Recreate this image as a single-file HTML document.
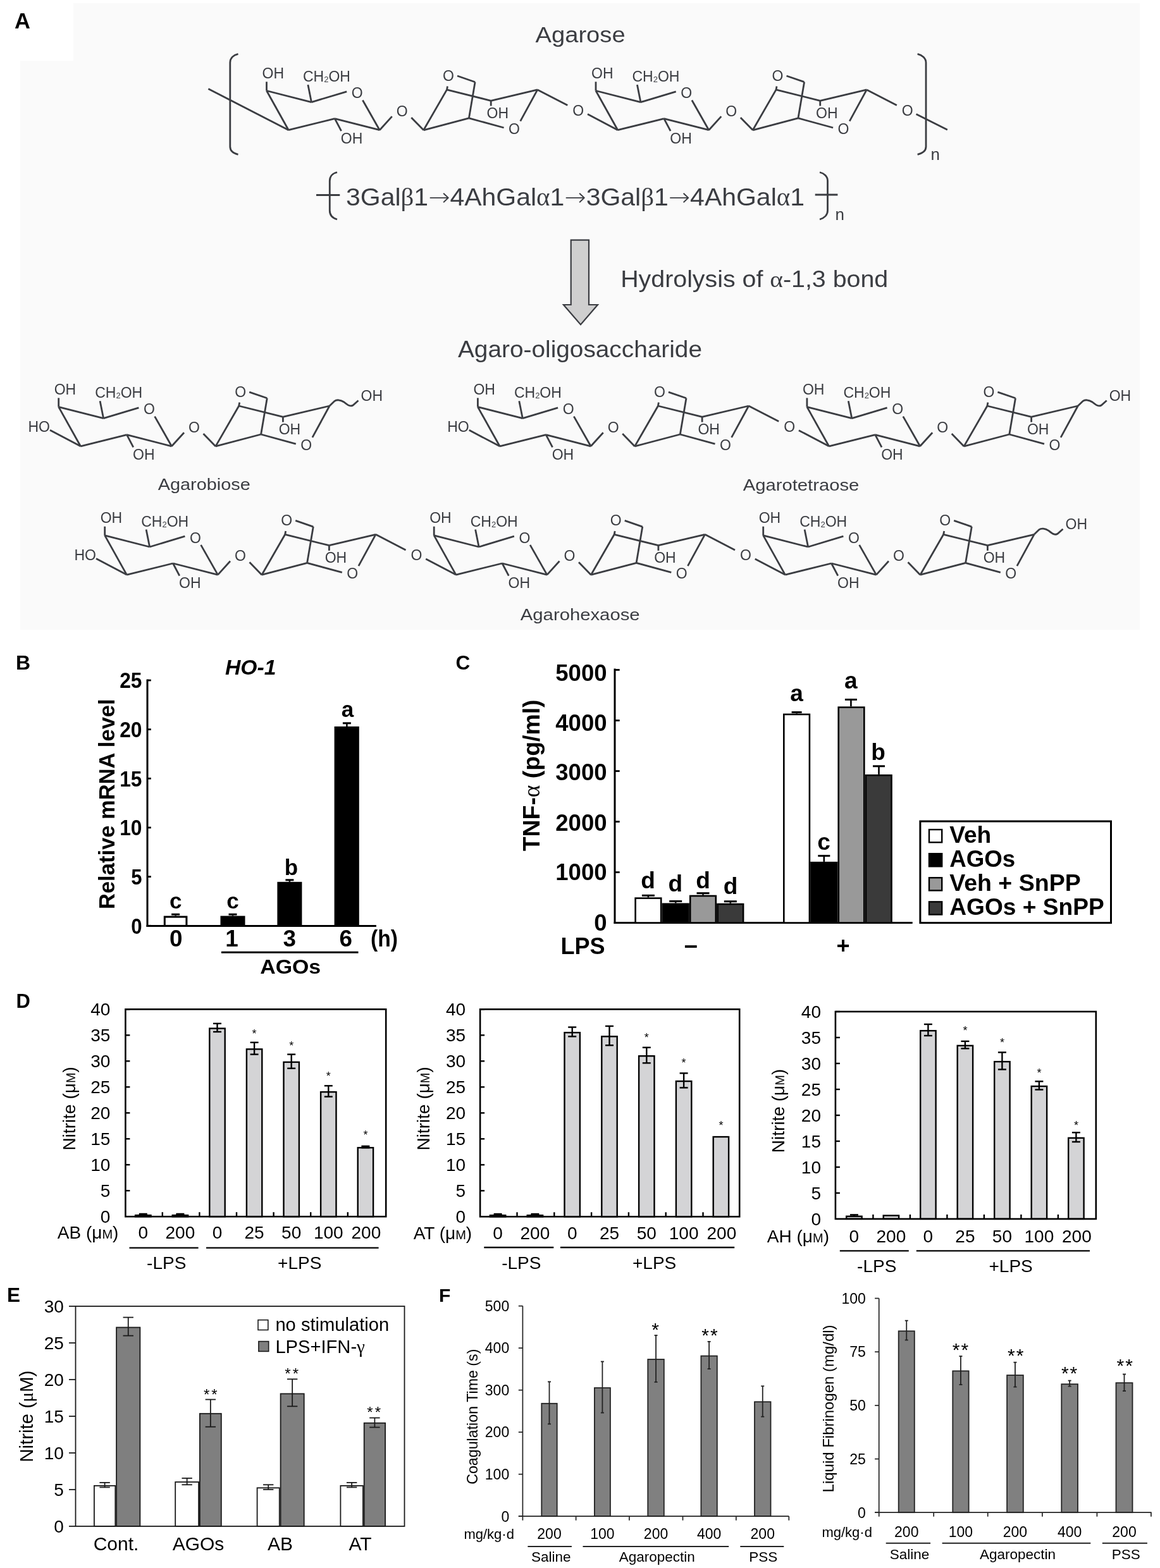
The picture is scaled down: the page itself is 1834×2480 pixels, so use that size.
<!DOCTYPE html>
<html><head><meta charset="utf-8"><title>Figure</title>
<style>html,body{margin:0;padding:0;background:#fff;}body{width:1834px;height:2480px;overflow:hidden;}svg{display:block;}</style>
</head><body>
<svg width="1834" height="2480" viewBox="0 0 1834 2480" font-family='"Liberation Sans", Arial, sans-serif'>
<path d="M32,96 L116,96 L116,5 L1802,5 L1802,996 L32,996 Z" stroke="none" stroke-width="0" fill="#fafafa" stroke-linecap="butt" stroke-linejoin="miter"/>
<text x="23" y="45.4" font-size="34.5" font-weight="bold">A</text>
<line x1="421.5" y1="143.5" x2="421.5" y2="129.3" stroke="#3b3d42" stroke-width="2.8" stroke-linecap="butt"/>
<text x="414.5" y="123.8" font-size="23" fill="#3b3d42">OH</text>
<line x1="421.5" y1="143.5" x2="492.4" y2="161.6" stroke="#3b3d42" stroke-width="2.8" stroke-linecap="butt"/>
<line x1="492.4" y1="161.6" x2="486.9" y2="134.1" stroke="#3b3d42" stroke-width="2.8" stroke-linecap="butt"/>
<text x="479" y="129.3" font-size="23" fill="#3b3d42"><tspan font-family="'Liberation Sans', sans-serif">CH</tspan><tspan font-family="'Liberation Sans', sans-serif" font-size="13" dy="1">2</tspan><tspan font-family="'Liberation Sans', sans-serif" dy="-1">OH</tspan></text>
<line x1="492.4" y1="161.6" x2="548.2" y2="144.8" stroke="#3b3d42" stroke-width="2.8" stroke-linecap="butt"/>
<text x="564.8" y="155.3" font-size="23" text-anchor="middle" fill="#3b3d42">O</text>
<line x1="573.4" y1="158.5" x2="600.2" y2="205.7" stroke="#3b3d42" stroke-width="2.8" stroke-linecap="butt"/>
<line x1="600.2" y1="205.7" x2="529.3" y2="187.6" stroke="#3b3d42" stroke-width="2.8" stroke-linecap="butt"/>
<line x1="529.3" y1="187.6" x2="539.6" y2="207.2" stroke="#3b3d42" stroke-width="2.8" stroke-linecap="butt"/>
<text x="538.8" y="226.9" font-size="23" fill="#3b3d42">OH</text>
<line x1="529.3" y1="187.6" x2="456.2" y2="205.7" stroke="#3b3d42" stroke-width="2.8" stroke-linecap="butt"/>
<line x1="456.2" y1="205.7" x2="421.5" y2="143.5" stroke="#3b3d42" stroke-width="2.8" stroke-linecap="butt"/>
<line x1="600.2" y1="205.7" x2="619.8" y2="184.1" stroke="#3b3d42" stroke-width="2.8" stroke-linecap="butt"/>
<text x="635.8" y="184" font-size="23" text-anchor="middle" fill="#3b3d42">O</text>
<line x1="650.3" y1="185.9" x2="669.7" y2="205.8" stroke="#3b3d42" stroke-width="2.8" stroke-linecap="butt"/>
<line x1="669.7" y1="205.8" x2="706.5" y2="141.9" stroke="#3b3d42" stroke-width="2.8" stroke-linecap="butt"/>
<line x1="706.5" y1="141.9" x2="707.5" y2="136.5" stroke="#3b3d42" stroke-width="2.8" stroke-linecap="butt"/>
<text x="709" y="127.8" font-size="23" text-anchor="middle" fill="#3b3d42">O</text>
<line x1="723" y1="120" x2="751.1" y2="129.7" stroke="#3b3d42" stroke-width="2.8" stroke-linecap="butt"/>
<line x1="751.1" y1="129.7" x2="741.4" y2="186.9" stroke="#3b3d42" stroke-width="2.8" stroke-linecap="butt"/>
<line x1="706.5" y1="141.9" x2="776.2" y2="159.3" stroke="#3b3d42" stroke-width="2.8" stroke-linecap="butt"/>
<line x1="776.2" y1="159.3" x2="776.2" y2="167.5" stroke="#3b3d42" stroke-width="2.8" stroke-linecap="butt"/>
<text x="769.5" y="186.9" font-size="23" fill="#3b3d42">OH</text>
<line x1="776.2" y1="159.3" x2="849.8" y2="141.9" stroke="#3b3d42" stroke-width="2.8" stroke-linecap="butt"/>
<line x1="849.8" y1="141.9" x2="822.7" y2="191.7" stroke="#3b3d42" stroke-width="2.8" stroke-linecap="butt"/>
<text x="813" y="212" font-size="23" text-anchor="middle" fill="#3b3d42">O</text>
<line x1="741.4" y1="186.9" x2="796.6" y2="202" stroke="#3b3d42" stroke-width="2.8" stroke-linecap="butt"/>
<line x1="669.7" y1="205.8" x2="741.4" y2="186.9" stroke="#3b3d42" stroke-width="2.8" stroke-linecap="butt"/>
<line x1="849.8" y1="141.9" x2="897.3" y2="166.5" stroke="#3b3d42" stroke-width="2.8" stroke-linecap="butt"/>
<text x="914.3" y="182.7" font-size="23" text-anchor="middle" fill="#3b3d42">O</text>
<line x1="929" y1="180.6" x2="976.7" y2="205.7" stroke="#3b3d42" stroke-width="2.8" stroke-linecap="butt"/>
<line x1="942" y1="143.5" x2="942" y2="129.3" stroke="#3b3d42" stroke-width="2.8" stroke-linecap="butt"/>
<text x="935" y="123.8" font-size="23" fill="#3b3d42">OH</text>
<line x1="942" y1="143.5" x2="1012.9" y2="161.6" stroke="#3b3d42" stroke-width="2.8" stroke-linecap="butt"/>
<line x1="1012.9" y1="161.6" x2="1007.4" y2="134.1" stroke="#3b3d42" stroke-width="2.8" stroke-linecap="butt"/>
<text x="999.5" y="129.3" font-size="23" fill="#3b3d42"><tspan font-family="'Liberation Sans', sans-serif">CH</tspan><tspan font-family="'Liberation Sans', sans-serif" font-size="13" dy="1">2</tspan><tspan font-family="'Liberation Sans', sans-serif" dy="-1">OH</tspan></text>
<line x1="1012.9" y1="161.6" x2="1068.7" y2="144.8" stroke="#3b3d42" stroke-width="2.8" stroke-linecap="butt"/>
<text x="1085.3" y="155.3" font-size="23" text-anchor="middle" fill="#3b3d42">O</text>
<line x1="1093.9" y1="158.5" x2="1120.7" y2="205.7" stroke="#3b3d42" stroke-width="2.8" stroke-linecap="butt"/>
<line x1="1120.7" y1="205.7" x2="1049.8" y2="187.6" stroke="#3b3d42" stroke-width="2.8" stroke-linecap="butt"/>
<line x1="1049.8" y1="187.6" x2="1060.1" y2="207.2" stroke="#3b3d42" stroke-width="2.8" stroke-linecap="butt"/>
<text x="1059.3" y="226.9" font-size="23" fill="#3b3d42">OH</text>
<line x1="1049.8" y1="187.6" x2="976.7" y2="205.7" stroke="#3b3d42" stroke-width="2.8" stroke-linecap="butt"/>
<line x1="976.7" y1="205.7" x2="942" y2="143.5" stroke="#3b3d42" stroke-width="2.8" stroke-linecap="butt"/>
<line x1="1120.7" y1="205.7" x2="1140.3" y2="184.1" stroke="#3b3d42" stroke-width="2.8" stroke-linecap="butt"/>
<text x="1156.3" y="184" font-size="23" text-anchor="middle" fill="#3b3d42">O</text>
<line x1="1170.8" y1="185.9" x2="1190.2" y2="205.8" stroke="#3b3d42" stroke-width="2.8" stroke-linecap="butt"/>
<line x1="1190.2" y1="205.8" x2="1227" y2="141.9" stroke="#3b3d42" stroke-width="2.8" stroke-linecap="butt"/>
<line x1="1227" y1="141.9" x2="1228" y2="136.5" stroke="#3b3d42" stroke-width="2.8" stroke-linecap="butt"/>
<text x="1229.5" y="127.8" font-size="23" text-anchor="middle" fill="#3b3d42">O</text>
<line x1="1243.5" y1="120" x2="1271.6" y2="129.7" stroke="#3b3d42" stroke-width="2.8" stroke-linecap="butt"/>
<line x1="1271.6" y1="129.7" x2="1261.9" y2="186.9" stroke="#3b3d42" stroke-width="2.8" stroke-linecap="butt"/>
<line x1="1227" y1="141.9" x2="1296.7" y2="159.3" stroke="#3b3d42" stroke-width="2.8" stroke-linecap="butt"/>
<line x1="1296.7" y1="159.3" x2="1296.7" y2="167.5" stroke="#3b3d42" stroke-width="2.8" stroke-linecap="butt"/>
<text x="1290" y="186.9" font-size="23" fill="#3b3d42">OH</text>
<line x1="1296.7" y1="159.3" x2="1370.3" y2="141.9" stroke="#3b3d42" stroke-width="2.8" stroke-linecap="butt"/>
<line x1="1370.3" y1="141.9" x2="1343.2" y2="191.7" stroke="#3b3d42" stroke-width="2.8" stroke-linecap="butt"/>
<text x="1333.5" y="212" font-size="23" text-anchor="middle" fill="#3b3d42">O</text>
<line x1="1261.9" y1="186.9" x2="1317.1" y2="202" stroke="#3b3d42" stroke-width="2.8" stroke-linecap="butt"/>
<line x1="1190.2" y1="205.8" x2="1261.9" y2="186.9" stroke="#3b3d42" stroke-width="2.8" stroke-linecap="butt"/>
<line x1="329.4" y1="140.4" x2="456.2" y2="205.7" stroke="#3b3d42" stroke-width="2.8" stroke-linecap="butt"/>
<line x1="1370.3" y1="141.9" x2="1417.8" y2="166.5" stroke="#3b3d42" stroke-width="2.8" stroke-linecap="butt"/>
<text x="1434.8" y="182.7" font-size="23" text-anchor="middle" fill="#3b3d42">O</text>
<line x1="1448.5" y1="180.6" x2="1497.8" y2="205.2" stroke="#3b3d42" stroke-width="2.8" stroke-linecap="butt"/>
<path d="M376.5,85.3 C369,87 363.8,92 363.8,99 L363.8,232 C363.8,239 369,242.5 376.5,244.3" stroke="#3b3d42" stroke-width="2.8" fill="none" stroke-linecap="butt" stroke-linejoin="miter"/>
<path d="M1450.6,85.3 C1458,87 1464,92 1464,99 L1464,232 C1464,239 1458,242.5 1450.6,244.3" stroke="#3b3d42" stroke-width="2.8" fill="none" stroke-linecap="butt" stroke-linejoin="miter"/>
<text x="1471.5" y="252.9" font-size="26" fill="#3b3d42">n</text>
<text x="917.6" y="66.6" font-size="35.5" text-anchor="middle" fill="#3b3d42" textLength="142" lengthAdjust="spacingAndGlyphs">Agarose</text>
<text x="547" y="325.3" font-size="39" fill="#3b3d42" textLength="725" lengthAdjust="spacingAndGlyphs"><tspan font-family="'Liberation Sans', sans-serif">3Gal</tspan><tspan font-family="'Liberation Serif', serif">β</tspan><tspan font-family="'Liberation Sans', sans-serif">1</tspan><tspan font-family="'DejaVu Sans', sans-serif" font-weight="100">→</tspan><tspan font-family="'Liberation Sans', sans-serif">4AhGal</tspan><tspan font-family="'Liberation Serif', serif">α</tspan><tspan font-family="'Liberation Sans', sans-serif">1</tspan><tspan font-family="'DejaVu Sans', sans-serif" font-weight="100">→</tspan><tspan font-family="'Liberation Sans', sans-serif">3Gal</tspan><tspan font-family="'Liberation Serif', serif">β</tspan><tspan font-family="'Liberation Sans', sans-serif">1</tspan><tspan font-family="'DejaVu Sans', sans-serif" font-weight="100">→</tspan><tspan font-family="'Liberation Sans', sans-serif">4AhGal</tspan><tspan font-family="'Liberation Serif', serif">α</tspan><tspan font-family="'Liberation Sans', sans-serif">1</tspan></text>
<path d="M533,272.5 C526,274 521.3,279 521.3,286 L521.3,333 C521.3,340 526,345 533,347" stroke="#3b3d42" stroke-width="2.8" fill="none" stroke-linecap="butt" stroke-linejoin="miter"/>
<line x1="500" y1="308.5" x2="537.3" y2="308.5" stroke="#3b3d42" stroke-width="2.8" stroke-linecap="butt"/>
<path d="M1296,272.5 C1303,274 1308.5,279 1308.5,286 L1308.5,333 C1308.5,340 1303,345 1296,347" stroke="#3b3d42" stroke-width="2.8" fill="none" stroke-linecap="butt" stroke-linejoin="miter"/>
<line x1="1288.7" y1="308" x2="1324.4" y2="308" stroke="#3b3d42" stroke-width="2.8" stroke-linecap="butt"/>
<text x="1320.5" y="347.9" font-size="26" fill="#3b3d42">n</text>
<path d="M902.7,379.6 L931,379.6 L931,482 L945,482 L918,513.4 L890.9,482 L902.7,482 Z" stroke="#3b3d42" stroke-width="2.2" fill="#cfcfcf" stroke-linecap="butt" stroke-linejoin="miter"/>
<text x="981.2" y="453.7" font-size="36" fill="#3b3d42" textLength="423" lengthAdjust="spacingAndGlyphs"><tspan font-family="'Liberation Sans', sans-serif">Hydrolysis of </tspan><tspan font-family="'Liberation Serif', serif">α</tspan><tspan font-family="'Liberation Sans', sans-serif">-1,3 bond</tspan></text>
<text x="724" y="564.9" font-size="36" fill="#3b3d42" textLength="386" lengthAdjust="spacingAndGlyphs">Agaro-oligosaccharide</text>
<line x1="92.7" y1="643.6" x2="92.7" y2="629.4" stroke="#3b3d42" stroke-width="2.8" stroke-linecap="butt"/>
<text x="85.7" y="623.9" font-size="23" fill="#3b3d42">OH</text>
<line x1="92.7" y1="643.6" x2="163.6" y2="661.7" stroke="#3b3d42" stroke-width="2.8" stroke-linecap="butt"/>
<line x1="163.6" y1="661.7" x2="158.1" y2="634.2" stroke="#3b3d42" stroke-width="2.8" stroke-linecap="butt"/>
<text x="150.2" y="629.4" font-size="23" fill="#3b3d42"><tspan font-family="'Liberation Sans', sans-serif">CH</tspan><tspan font-family="'Liberation Sans', sans-serif" font-size="13" dy="1">2</tspan><tspan font-family="'Liberation Sans', sans-serif" dy="-1">OH</tspan></text>
<line x1="163.6" y1="661.7" x2="219.4" y2="644.9" stroke="#3b3d42" stroke-width="2.8" stroke-linecap="butt"/>
<text x="236" y="655.4" font-size="23" text-anchor="middle" fill="#3b3d42">O</text>
<line x1="244.6" y1="658.6" x2="271.4" y2="705.8" stroke="#3b3d42" stroke-width="2.8" stroke-linecap="butt"/>
<line x1="271.4" y1="705.8" x2="200.5" y2="687.7" stroke="#3b3d42" stroke-width="2.8" stroke-linecap="butt"/>
<line x1="200.5" y1="687.7" x2="210.8" y2="707.3" stroke="#3b3d42" stroke-width="2.8" stroke-linecap="butt"/>
<text x="210" y="727" font-size="23" fill="#3b3d42">OH</text>
<line x1="200.5" y1="687.7" x2="127.4" y2="705.8" stroke="#3b3d42" stroke-width="2.8" stroke-linecap="butt"/>
<line x1="127.4" y1="705.8" x2="92.7" y2="643.6" stroke="#3b3d42" stroke-width="2.8" stroke-linecap="butt"/>
<line x1="271.4" y1="705.8" x2="291" y2="684.2" stroke="#3b3d42" stroke-width="2.8" stroke-linecap="butt"/>
<text x="307" y="684.1" font-size="23" text-anchor="middle" fill="#3b3d42">O</text>
<line x1="321.5" y1="686" x2="340.9" y2="705.9" stroke="#3b3d42" stroke-width="2.8" stroke-linecap="butt"/>
<line x1="79" y1="680.3" x2="127.4" y2="705.8" stroke="#3b3d42" stroke-width="2.8" stroke-linecap="butt"/>
<text x="44.5" y="682.6" font-size="23" fill="#3b3d42">HO</text>
<line x1="340.9" y1="705.9" x2="377.7" y2="642" stroke="#3b3d42" stroke-width="2.8" stroke-linecap="butt"/>
<line x1="377.7" y1="642" x2="378.7" y2="636.6" stroke="#3b3d42" stroke-width="2.8" stroke-linecap="butt"/>
<text x="380.2" y="627.9" font-size="23" text-anchor="middle" fill="#3b3d42">O</text>
<line x1="394.2" y1="620.1" x2="422.3" y2="629.8" stroke="#3b3d42" stroke-width="2.8" stroke-linecap="butt"/>
<line x1="422.3" y1="629.8" x2="412.6" y2="687" stroke="#3b3d42" stroke-width="2.8" stroke-linecap="butt"/>
<line x1="377.7" y1="642" x2="447.4" y2="659.4" stroke="#3b3d42" stroke-width="2.8" stroke-linecap="butt"/>
<line x1="447.4" y1="659.4" x2="447.4" y2="667.6" stroke="#3b3d42" stroke-width="2.8" stroke-linecap="butt"/>
<text x="440.7" y="687" font-size="23" fill="#3b3d42">OH</text>
<line x1="447.4" y1="659.4" x2="521" y2="642" stroke="#3b3d42" stroke-width="2.8" stroke-linecap="butt"/>
<line x1="521" y1="642" x2="493.9" y2="691.8" stroke="#3b3d42" stroke-width="2.8" stroke-linecap="butt"/>
<text x="484.2" y="712.1" font-size="23" text-anchor="middle" fill="#3b3d42">O</text>
<line x1="412.6" y1="687" x2="467.8" y2="702.1" stroke="#3b3d42" stroke-width="2.8" stroke-linecap="butt"/>
<line x1="340.9" y1="705.9" x2="412.6" y2="687" stroke="#3b3d42" stroke-width="2.8" stroke-linecap="butt"/>
<path d="M521,642 L529,634.3 C532,632 538,632 544,636 C550,641 554,643.5 558,641 L566.5,633.5" stroke="#3b3d42" stroke-width="2.8" fill="none" stroke-linecap="butt" stroke-linejoin="miter"/>
<text x="570.5" y="633.9" font-size="23" fill="#3b3d42">OH</text>
<text x="322.7" y="775.2" font-size="26" text-anchor="middle" fill="#3b3d42" textLength="146" lengthAdjust="spacingAndGlyphs">Agarobiose</text>
<line x1="755.4" y1="643.6" x2="755.4" y2="629.4" stroke="#3b3d42" stroke-width="2.8" stroke-linecap="butt"/>
<text x="748.4" y="623.9" font-size="23" fill="#3b3d42">OH</text>
<line x1="755.4" y1="643.6" x2="826.3" y2="661.7" stroke="#3b3d42" stroke-width="2.8" stroke-linecap="butt"/>
<line x1="826.3" y1="661.7" x2="820.8" y2="634.2" stroke="#3b3d42" stroke-width="2.8" stroke-linecap="butt"/>
<text x="812.9" y="629.4" font-size="23" fill="#3b3d42"><tspan font-family="'Liberation Sans', sans-serif">CH</tspan><tspan font-family="'Liberation Sans', sans-serif" font-size="13" dy="1">2</tspan><tspan font-family="'Liberation Sans', sans-serif" dy="-1">OH</tspan></text>
<line x1="826.3" y1="661.7" x2="882.1" y2="644.9" stroke="#3b3d42" stroke-width="2.8" stroke-linecap="butt"/>
<text x="898.7" y="655.4" font-size="23" text-anchor="middle" fill="#3b3d42">O</text>
<line x1="907.3" y1="658.6" x2="934.1" y2="705.8" stroke="#3b3d42" stroke-width="2.8" stroke-linecap="butt"/>
<line x1="934.1" y1="705.8" x2="863.2" y2="687.7" stroke="#3b3d42" stroke-width="2.8" stroke-linecap="butt"/>
<line x1="863.2" y1="687.7" x2="873.5" y2="707.3" stroke="#3b3d42" stroke-width="2.8" stroke-linecap="butt"/>
<text x="872.7" y="727" font-size="23" fill="#3b3d42">OH</text>
<line x1="863.2" y1="687.7" x2="790.1" y2="705.8" stroke="#3b3d42" stroke-width="2.8" stroke-linecap="butt"/>
<line x1="790.1" y1="705.8" x2="755.4" y2="643.6" stroke="#3b3d42" stroke-width="2.8" stroke-linecap="butt"/>
<line x1="934.1" y1="705.8" x2="953.7" y2="684.2" stroke="#3b3d42" stroke-width="2.8" stroke-linecap="butt"/>
<text x="969.7" y="684.1" font-size="23" text-anchor="middle" fill="#3b3d42">O</text>
<line x1="984.2" y1="686" x2="1003.6" y2="705.9" stroke="#3b3d42" stroke-width="2.8" stroke-linecap="butt"/>
<line x1="741.7" y1="680.3" x2="790.1" y2="705.8" stroke="#3b3d42" stroke-width="2.8" stroke-linecap="butt"/>
<text x="707.2" y="682.6" font-size="23" fill="#3b3d42">HO</text>
<line x1="1003.6" y1="705.9" x2="1040.4" y2="642" stroke="#3b3d42" stroke-width="2.8" stroke-linecap="butt"/>
<line x1="1040.4" y1="642" x2="1041.4" y2="636.6" stroke="#3b3d42" stroke-width="2.8" stroke-linecap="butt"/>
<text x="1042.9" y="627.9" font-size="23" text-anchor="middle" fill="#3b3d42">O</text>
<line x1="1056.9" y1="620.1" x2="1085" y2="629.8" stroke="#3b3d42" stroke-width="2.8" stroke-linecap="butt"/>
<line x1="1085" y1="629.8" x2="1075.3" y2="687" stroke="#3b3d42" stroke-width="2.8" stroke-linecap="butt"/>
<line x1="1040.4" y1="642" x2="1110.1" y2="659.4" stroke="#3b3d42" stroke-width="2.8" stroke-linecap="butt"/>
<line x1="1110.1" y1="659.4" x2="1110.1" y2="667.6" stroke="#3b3d42" stroke-width="2.8" stroke-linecap="butt"/>
<text x="1103.4" y="687" font-size="23" fill="#3b3d42">OH</text>
<line x1="1110.1" y1="659.4" x2="1183.7" y2="642" stroke="#3b3d42" stroke-width="2.8" stroke-linecap="butt"/>
<line x1="1183.7" y1="642" x2="1156.6" y2="691.8" stroke="#3b3d42" stroke-width="2.8" stroke-linecap="butt"/>
<text x="1146.9" y="712.1" font-size="23" text-anchor="middle" fill="#3b3d42">O</text>
<line x1="1075.3" y1="687" x2="1130.5" y2="702.1" stroke="#3b3d42" stroke-width="2.8" stroke-linecap="butt"/>
<line x1="1003.6" y1="705.9" x2="1075.3" y2="687" stroke="#3b3d42" stroke-width="2.8" stroke-linecap="butt"/>
<line x1="1183.7" y1="642" x2="1231.2" y2="666.6" stroke="#3b3d42" stroke-width="2.8" stroke-linecap="butt"/>
<text x="1248.2" y="682.8" font-size="23" text-anchor="middle" fill="#3b3d42">O</text>
<line x1="1262.9" y1="680.7" x2="1310.6" y2="705.8" stroke="#3b3d42" stroke-width="2.8" stroke-linecap="butt"/>
<line x1="1275.9" y1="643.6" x2="1275.9" y2="629.4" stroke="#3b3d42" stroke-width="2.8" stroke-linecap="butt"/>
<text x="1268.9" y="623.9" font-size="23" fill="#3b3d42">OH</text>
<line x1="1275.9" y1="643.6" x2="1346.8" y2="661.7" stroke="#3b3d42" stroke-width="2.8" stroke-linecap="butt"/>
<line x1="1346.8" y1="661.7" x2="1341.3" y2="634.2" stroke="#3b3d42" stroke-width="2.8" stroke-linecap="butt"/>
<text x="1333.4" y="629.4" font-size="23" fill="#3b3d42"><tspan font-family="'Liberation Sans', sans-serif">CH</tspan><tspan font-family="'Liberation Sans', sans-serif" font-size="13" dy="1">2</tspan><tspan font-family="'Liberation Sans', sans-serif" dy="-1">OH</tspan></text>
<line x1="1346.8" y1="661.7" x2="1402.6" y2="644.9" stroke="#3b3d42" stroke-width="2.8" stroke-linecap="butt"/>
<text x="1419.2" y="655.4" font-size="23" text-anchor="middle" fill="#3b3d42">O</text>
<line x1="1427.8" y1="658.6" x2="1454.6" y2="705.8" stroke="#3b3d42" stroke-width="2.8" stroke-linecap="butt"/>
<line x1="1454.6" y1="705.8" x2="1383.7" y2="687.7" stroke="#3b3d42" stroke-width="2.8" stroke-linecap="butt"/>
<line x1="1383.7" y1="687.7" x2="1394" y2="707.3" stroke="#3b3d42" stroke-width="2.8" stroke-linecap="butt"/>
<text x="1393.2" y="727" font-size="23" fill="#3b3d42">OH</text>
<line x1="1383.7" y1="687.7" x2="1310.6" y2="705.8" stroke="#3b3d42" stroke-width="2.8" stroke-linecap="butt"/>
<line x1="1310.6" y1="705.8" x2="1275.9" y2="643.6" stroke="#3b3d42" stroke-width="2.8" stroke-linecap="butt"/>
<line x1="1454.6" y1="705.8" x2="1474.2" y2="684.2" stroke="#3b3d42" stroke-width="2.8" stroke-linecap="butt"/>
<text x="1490.2" y="684.1" font-size="23" text-anchor="middle" fill="#3b3d42">O</text>
<line x1="1504.7" y1="686" x2="1524.1" y2="705.9" stroke="#3b3d42" stroke-width="2.8" stroke-linecap="butt"/>
<line x1="1524.1" y1="705.9" x2="1560.9" y2="642" stroke="#3b3d42" stroke-width="2.8" stroke-linecap="butt"/>
<line x1="1560.9" y1="642" x2="1561.9" y2="636.6" stroke="#3b3d42" stroke-width="2.8" stroke-linecap="butt"/>
<text x="1563.4" y="627.9" font-size="23" text-anchor="middle" fill="#3b3d42">O</text>
<line x1="1577.4" y1="620.1" x2="1605.5" y2="629.8" stroke="#3b3d42" stroke-width="2.8" stroke-linecap="butt"/>
<line x1="1605.5" y1="629.8" x2="1595.8" y2="687" stroke="#3b3d42" stroke-width="2.8" stroke-linecap="butt"/>
<line x1="1560.9" y1="642" x2="1630.6" y2="659.4" stroke="#3b3d42" stroke-width="2.8" stroke-linecap="butt"/>
<line x1="1630.6" y1="659.4" x2="1630.6" y2="667.6" stroke="#3b3d42" stroke-width="2.8" stroke-linecap="butt"/>
<text x="1623.9" y="687" font-size="23" fill="#3b3d42">OH</text>
<line x1="1630.6" y1="659.4" x2="1704.2" y2="642" stroke="#3b3d42" stroke-width="2.8" stroke-linecap="butt"/>
<line x1="1704.2" y1="642" x2="1677.1" y2="691.8" stroke="#3b3d42" stroke-width="2.8" stroke-linecap="butt"/>
<text x="1667.4" y="712.1" font-size="23" text-anchor="middle" fill="#3b3d42">O</text>
<line x1="1595.8" y1="687" x2="1651" y2="702.1" stroke="#3b3d42" stroke-width="2.8" stroke-linecap="butt"/>
<line x1="1524.1" y1="705.9" x2="1595.8" y2="687" stroke="#3b3d42" stroke-width="2.8" stroke-linecap="butt"/>
<path d="M1704.2,642 L1712.2,634.3 C1715.2,632 1721.2,632 1727.2,636 C1733.2,641 1737.2,643.5 1741.2,641 L1749.7,633.5" stroke="#3b3d42" stroke-width="2.8" fill="none" stroke-linecap="butt" stroke-linejoin="miter"/>
<text x="1753.7" y="633.9" font-size="23" fill="#3b3d42">OH</text>
<text x="1266.5" y="776" font-size="26" text-anchor="middle" fill="#3b3d42" textLength="183.5" lengthAdjust="spacingAndGlyphs">Agarotetraose</text>
<line x1="165.7" y1="846.9" x2="165.7" y2="832.7" stroke="#3b3d42" stroke-width="2.8" stroke-linecap="butt"/>
<text x="158.7" y="827.2" font-size="23" fill="#3b3d42">OH</text>
<line x1="165.7" y1="846.9" x2="236.6" y2="865" stroke="#3b3d42" stroke-width="2.8" stroke-linecap="butt"/>
<line x1="236.6" y1="865" x2="231.1" y2="837.5" stroke="#3b3d42" stroke-width="2.8" stroke-linecap="butt"/>
<text x="223.2" y="832.7" font-size="23" fill="#3b3d42"><tspan font-family="'Liberation Sans', sans-serif">CH</tspan><tspan font-family="'Liberation Sans', sans-serif" font-size="13" dy="1">2</tspan><tspan font-family="'Liberation Sans', sans-serif" dy="-1">OH</tspan></text>
<line x1="236.6" y1="865" x2="292.4" y2="848.2" stroke="#3b3d42" stroke-width="2.8" stroke-linecap="butt"/>
<text x="309" y="858.7" font-size="23" text-anchor="middle" fill="#3b3d42">O</text>
<line x1="317.6" y1="861.9" x2="344.4" y2="909.1" stroke="#3b3d42" stroke-width="2.8" stroke-linecap="butt"/>
<line x1="344.4" y1="909.1" x2="273.5" y2="891" stroke="#3b3d42" stroke-width="2.8" stroke-linecap="butt"/>
<line x1="273.5" y1="891" x2="283.8" y2="910.6" stroke="#3b3d42" stroke-width="2.8" stroke-linecap="butt"/>
<text x="283" y="930.3" font-size="23" fill="#3b3d42">OH</text>
<line x1="273.5" y1="891" x2="200.4" y2="909.1" stroke="#3b3d42" stroke-width="2.8" stroke-linecap="butt"/>
<line x1="200.4" y1="909.1" x2="165.7" y2="846.9" stroke="#3b3d42" stroke-width="2.8" stroke-linecap="butt"/>
<line x1="344.4" y1="909.1" x2="364" y2="887.5" stroke="#3b3d42" stroke-width="2.8" stroke-linecap="butt"/>
<text x="380" y="887.4" font-size="23" text-anchor="middle" fill="#3b3d42">O</text>
<line x1="394.5" y1="889.3" x2="413.9" y2="909.2" stroke="#3b3d42" stroke-width="2.8" stroke-linecap="butt"/>
<line x1="152" y1="883.6" x2="200.4" y2="909.1" stroke="#3b3d42" stroke-width="2.8" stroke-linecap="butt"/>
<text x="117.5" y="885.9" font-size="23" fill="#3b3d42">HO</text>
<line x1="413.9" y1="909.2" x2="450.7" y2="845.3" stroke="#3b3d42" stroke-width="2.8" stroke-linecap="butt"/>
<line x1="450.7" y1="845.3" x2="451.7" y2="839.9" stroke="#3b3d42" stroke-width="2.8" stroke-linecap="butt"/>
<text x="453.2" y="831.2" font-size="23" text-anchor="middle" fill="#3b3d42">O</text>
<line x1="467.2" y1="823.4" x2="495.3" y2="833.1" stroke="#3b3d42" stroke-width="2.8" stroke-linecap="butt"/>
<line x1="495.3" y1="833.1" x2="485.6" y2="890.3" stroke="#3b3d42" stroke-width="2.8" stroke-linecap="butt"/>
<line x1="450.7" y1="845.3" x2="520.4" y2="862.7" stroke="#3b3d42" stroke-width="2.8" stroke-linecap="butt"/>
<line x1="520.4" y1="862.7" x2="520.4" y2="870.9" stroke="#3b3d42" stroke-width="2.8" stroke-linecap="butt"/>
<text x="513.7" y="890.3" font-size="23" fill="#3b3d42">OH</text>
<line x1="520.4" y1="862.7" x2="594" y2="845.3" stroke="#3b3d42" stroke-width="2.8" stroke-linecap="butt"/>
<line x1="594" y1="845.3" x2="566.9" y2="895.1" stroke="#3b3d42" stroke-width="2.8" stroke-linecap="butt"/>
<text x="557.2" y="915.4" font-size="23" text-anchor="middle" fill="#3b3d42">O</text>
<line x1="485.6" y1="890.3" x2="540.8" y2="905.4" stroke="#3b3d42" stroke-width="2.8" stroke-linecap="butt"/>
<line x1="413.9" y1="909.2" x2="485.6" y2="890.3" stroke="#3b3d42" stroke-width="2.8" stroke-linecap="butt"/>
<line x1="594" y1="845.3" x2="641.5" y2="869.9" stroke="#3b3d42" stroke-width="2.8" stroke-linecap="butt"/>
<text x="658.5" y="886.1" font-size="23" text-anchor="middle" fill="#3b3d42">O</text>
<line x1="673.2" y1="884" x2="720.9" y2="909.1" stroke="#3b3d42" stroke-width="2.8" stroke-linecap="butt"/>
<line x1="686.2" y1="846.9" x2="686.2" y2="832.7" stroke="#3b3d42" stroke-width="2.8" stroke-linecap="butt"/>
<text x="679.2" y="827.2" font-size="23" fill="#3b3d42">OH</text>
<line x1="686.2" y1="846.9" x2="757.1" y2="865" stroke="#3b3d42" stroke-width="2.8" stroke-linecap="butt"/>
<line x1="757.1" y1="865" x2="751.6" y2="837.5" stroke="#3b3d42" stroke-width="2.8" stroke-linecap="butt"/>
<text x="743.7" y="832.7" font-size="23" fill="#3b3d42"><tspan font-family="'Liberation Sans', sans-serif">CH</tspan><tspan font-family="'Liberation Sans', sans-serif" font-size="13" dy="1">2</tspan><tspan font-family="'Liberation Sans', sans-serif" dy="-1">OH</tspan></text>
<line x1="757.1" y1="865" x2="812.9" y2="848.2" stroke="#3b3d42" stroke-width="2.8" stroke-linecap="butt"/>
<text x="829.5" y="858.7" font-size="23" text-anchor="middle" fill="#3b3d42">O</text>
<line x1="838.1" y1="861.9" x2="864.9" y2="909.1" stroke="#3b3d42" stroke-width="2.8" stroke-linecap="butt"/>
<line x1="864.9" y1="909.1" x2="794" y2="891" stroke="#3b3d42" stroke-width="2.8" stroke-linecap="butt"/>
<line x1="794" y1="891" x2="804.3" y2="910.6" stroke="#3b3d42" stroke-width="2.8" stroke-linecap="butt"/>
<text x="803.5" y="930.3" font-size="23" fill="#3b3d42">OH</text>
<line x1="794" y1="891" x2="720.9" y2="909.1" stroke="#3b3d42" stroke-width="2.8" stroke-linecap="butt"/>
<line x1="720.9" y1="909.1" x2="686.2" y2="846.9" stroke="#3b3d42" stroke-width="2.8" stroke-linecap="butt"/>
<line x1="864.9" y1="909.1" x2="884.5" y2="887.5" stroke="#3b3d42" stroke-width="2.8" stroke-linecap="butt"/>
<text x="900.5" y="887.4" font-size="23" text-anchor="middle" fill="#3b3d42">O</text>
<line x1="915" y1="889.3" x2="934.4" y2="909.2" stroke="#3b3d42" stroke-width="2.8" stroke-linecap="butt"/>
<line x1="934.4" y1="909.2" x2="971.2" y2="845.3" stroke="#3b3d42" stroke-width="2.8" stroke-linecap="butt"/>
<line x1="971.2" y1="845.3" x2="972.2" y2="839.9" stroke="#3b3d42" stroke-width="2.8" stroke-linecap="butt"/>
<text x="973.7" y="831.2" font-size="23" text-anchor="middle" fill="#3b3d42">O</text>
<line x1="987.7" y1="823.4" x2="1015.8" y2="833.1" stroke="#3b3d42" stroke-width="2.8" stroke-linecap="butt"/>
<line x1="1015.8" y1="833.1" x2="1006.1" y2="890.3" stroke="#3b3d42" stroke-width="2.8" stroke-linecap="butt"/>
<line x1="971.2" y1="845.3" x2="1040.9" y2="862.7" stroke="#3b3d42" stroke-width="2.8" stroke-linecap="butt"/>
<line x1="1040.9" y1="862.7" x2="1040.9" y2="870.9" stroke="#3b3d42" stroke-width="2.8" stroke-linecap="butt"/>
<text x="1034.2" y="890.3" font-size="23" fill="#3b3d42">OH</text>
<line x1="1040.9" y1="862.7" x2="1114.5" y2="845.3" stroke="#3b3d42" stroke-width="2.8" stroke-linecap="butt"/>
<line x1="1114.5" y1="845.3" x2="1087.4" y2="895.1" stroke="#3b3d42" stroke-width="2.8" stroke-linecap="butt"/>
<text x="1077.7" y="915.4" font-size="23" text-anchor="middle" fill="#3b3d42">O</text>
<line x1="1006.1" y1="890.3" x2="1061.3" y2="905.4" stroke="#3b3d42" stroke-width="2.8" stroke-linecap="butt"/>
<line x1="934.4" y1="909.2" x2="1006.1" y2="890.3" stroke="#3b3d42" stroke-width="2.8" stroke-linecap="butt"/>
<line x1="1114.5" y1="845.3" x2="1162" y2="869.9" stroke="#3b3d42" stroke-width="2.8" stroke-linecap="butt"/>
<text x="1179" y="886.1" font-size="23" text-anchor="middle" fill="#3b3d42">O</text>
<line x1="1193.7" y1="884" x2="1241.4" y2="909.1" stroke="#3b3d42" stroke-width="2.8" stroke-linecap="butt"/>
<line x1="1206.7" y1="846.9" x2="1206.7" y2="832.7" stroke="#3b3d42" stroke-width="2.8" stroke-linecap="butt"/>
<text x="1199.7" y="827.2" font-size="23" fill="#3b3d42">OH</text>
<line x1="1206.7" y1="846.9" x2="1277.6" y2="865" stroke="#3b3d42" stroke-width="2.8" stroke-linecap="butt"/>
<line x1="1277.6" y1="865" x2="1272.1" y2="837.5" stroke="#3b3d42" stroke-width="2.8" stroke-linecap="butt"/>
<text x="1264.2" y="832.7" font-size="23" fill="#3b3d42"><tspan font-family="'Liberation Sans', sans-serif">CH</tspan><tspan font-family="'Liberation Sans', sans-serif" font-size="13" dy="1">2</tspan><tspan font-family="'Liberation Sans', sans-serif" dy="-1">OH</tspan></text>
<line x1="1277.6" y1="865" x2="1333.4" y2="848.2" stroke="#3b3d42" stroke-width="2.8" stroke-linecap="butt"/>
<text x="1350" y="858.7" font-size="23" text-anchor="middle" fill="#3b3d42">O</text>
<line x1="1358.6" y1="861.9" x2="1385.4" y2="909.1" stroke="#3b3d42" stroke-width="2.8" stroke-linecap="butt"/>
<line x1="1385.4" y1="909.1" x2="1314.5" y2="891" stroke="#3b3d42" stroke-width="2.8" stroke-linecap="butt"/>
<line x1="1314.5" y1="891" x2="1324.8" y2="910.6" stroke="#3b3d42" stroke-width="2.8" stroke-linecap="butt"/>
<text x="1324" y="930.3" font-size="23" fill="#3b3d42">OH</text>
<line x1="1314.5" y1="891" x2="1241.4" y2="909.1" stroke="#3b3d42" stroke-width="2.8" stroke-linecap="butt"/>
<line x1="1241.4" y1="909.1" x2="1206.7" y2="846.9" stroke="#3b3d42" stroke-width="2.8" stroke-linecap="butt"/>
<line x1="1385.4" y1="909.1" x2="1405" y2="887.5" stroke="#3b3d42" stroke-width="2.8" stroke-linecap="butt"/>
<text x="1421" y="887.4" font-size="23" text-anchor="middle" fill="#3b3d42">O</text>
<line x1="1435.5" y1="889.3" x2="1454.9" y2="909.2" stroke="#3b3d42" stroke-width="2.8" stroke-linecap="butt"/>
<line x1="1454.9" y1="909.2" x2="1491.7" y2="845.3" stroke="#3b3d42" stroke-width="2.8" stroke-linecap="butt"/>
<line x1="1491.7" y1="845.3" x2="1492.7" y2="839.9" stroke="#3b3d42" stroke-width="2.8" stroke-linecap="butt"/>
<text x="1494.2" y="831.2" font-size="23" text-anchor="middle" fill="#3b3d42">O</text>
<line x1="1508.2" y1="823.4" x2="1536.3" y2="833.1" stroke="#3b3d42" stroke-width="2.8" stroke-linecap="butt"/>
<line x1="1536.3" y1="833.1" x2="1526.6" y2="890.3" stroke="#3b3d42" stroke-width="2.8" stroke-linecap="butt"/>
<line x1="1491.7" y1="845.3" x2="1561.4" y2="862.7" stroke="#3b3d42" stroke-width="2.8" stroke-linecap="butt"/>
<line x1="1561.4" y1="862.7" x2="1561.4" y2="870.9" stroke="#3b3d42" stroke-width="2.8" stroke-linecap="butt"/>
<text x="1554.7" y="890.3" font-size="23" fill="#3b3d42">OH</text>
<line x1="1561.4" y1="862.7" x2="1635" y2="845.3" stroke="#3b3d42" stroke-width="2.8" stroke-linecap="butt"/>
<line x1="1635" y1="845.3" x2="1607.9" y2="895.1" stroke="#3b3d42" stroke-width="2.8" stroke-linecap="butt"/>
<text x="1598.2" y="915.4" font-size="23" text-anchor="middle" fill="#3b3d42">O</text>
<line x1="1526.6" y1="890.3" x2="1581.8" y2="905.4" stroke="#3b3d42" stroke-width="2.8" stroke-linecap="butt"/>
<line x1="1454.9" y1="909.2" x2="1526.6" y2="890.3" stroke="#3b3d42" stroke-width="2.8" stroke-linecap="butt"/>
<path d="M1635,845.3 L1643,837.6 C1646,835.3 1652,835.3 1658,839.3 C1664,844.3 1668,846.8 1672,844.3 L1680.5,836.8" stroke="#3b3d42" stroke-width="2.8" fill="none" stroke-linecap="butt" stroke-linejoin="miter"/>
<text x="1684.5" y="837.2" font-size="23" fill="#3b3d42">OH</text>
<text x="917.2" y="981" font-size="26" text-anchor="middle" fill="#3b3d42" textLength="188.8" lengthAdjust="spacingAndGlyphs">Agarohexaose</text>
<text x="25" y="1059.2" font-size="32" font-weight="bold">B</text>
<text x="356" y="1066.6" font-size="34" font-weight="bold" font-style="italic" textLength="80.5" lengthAdjust="spacingAndGlyphs">HO-1</text>
<line x1="233" y1="1074.5" x2="233" y2="1465.9" stroke="#000" stroke-width="3" stroke-linecap="butt"/>
<line x1="231.5" y1="1464.4" x2="594.9" y2="1464.4" stroke="#000" stroke-width="3" stroke-linecap="butt"/>
<line x1="233" y1="1076" x2="238.8" y2="1076" stroke="#000" stroke-width="2.8" stroke-linecap="butt"/>
<text x="224.5" y="1088.3" font-size="34.5" text-anchor="end" font-weight="bold" textLength="35.3" lengthAdjust="spacingAndGlyphs">25</text>
<line x1="233" y1="1153.65" x2="238.8" y2="1153.65" stroke="#000" stroke-width="2.8" stroke-linecap="butt"/>
<text x="224.5" y="1165.95" font-size="34.5" text-anchor="end" font-weight="bold" textLength="35.3" lengthAdjust="spacingAndGlyphs">20</text>
<line x1="233" y1="1231.3" x2="238.8" y2="1231.3" stroke="#000" stroke-width="2.8" stroke-linecap="butt"/>
<text x="224.5" y="1243.6" font-size="34.5" text-anchor="end" font-weight="bold" textLength="35.3" lengthAdjust="spacingAndGlyphs">15</text>
<line x1="233" y1="1308.95" x2="238.8" y2="1308.95" stroke="#000" stroke-width="2.8" stroke-linecap="butt"/>
<text x="224.5" y="1321.25" font-size="34.5" text-anchor="end" font-weight="bold" textLength="35.3" lengthAdjust="spacingAndGlyphs">10</text>
<line x1="233" y1="1386.6" x2="238.8" y2="1386.6" stroke="#000" stroke-width="2.8" stroke-linecap="butt"/>
<text x="224.5" y="1398.9" font-size="34.5" text-anchor="end" font-weight="bold" textLength="17.3" lengthAdjust="spacingAndGlyphs">5</text>
<line x1="233" y1="1464.25" x2="238.8" y2="1464.25" stroke="#000" stroke-width="2.8" stroke-linecap="butt"/>
<text x="224.5" y="1476.55" font-size="34.5" text-anchor="end" font-weight="bold" textLength="17.3" lengthAdjust="spacingAndGlyphs">0</text>
<text x="181.1" y="1271.7" font-size="34.5" text-anchor="middle" font-weight="bold" transform="rotate(-90 181.1 1271.7)" textLength="332.7" lengthAdjust="spacingAndGlyphs">Relative mRNA level</text>
<rect x="260.3" y="1450.1" width="34.6" height="14.3" fill="#fff" stroke="#000" stroke-width="3"/>
<rect x="350" y="1450.1" width="36" height="14.3" fill="#000" stroke="#000" stroke-width="3"/>
<rect x="439.9" y="1396.3" width="36" height="68.1" fill="#000" stroke="#000" stroke-width="3"/>
<rect x="530.1" y="1150.5" width="36.2" height="313.9" fill="#000" stroke="#000" stroke-width="3"/>
<line x1="277.6" y1="1446.2" x2="277.6" y2="1448.6" stroke="#000" stroke-width="2.5" stroke-linecap="butt"/>
<line x1="271.1" y1="1446.2" x2="284.1" y2="1446.2" stroke="#000" stroke-width="3" stroke-linecap="butt"/>
<line x1="368" y1="1446.2" x2="368" y2="1448.6" stroke="#000" stroke-width="2.5" stroke-linecap="butt"/>
<line x1="361.5" y1="1446.2" x2="374.5" y2="1446.2" stroke="#000" stroke-width="3" stroke-linecap="butt"/>
<line x1="457.9" y1="1391.8" x2="457.9" y2="1394.8" stroke="#000" stroke-width="2.5" stroke-linecap="butt"/>
<line x1="451.4" y1="1391.8" x2="464.4" y2="1391.8" stroke="#000" stroke-width="3" stroke-linecap="butt"/>
<line x1="548.4" y1="1143.8" x2="548.4" y2="1149" stroke="#000" stroke-width="2.5" stroke-linecap="butt"/>
<line x1="541.9" y1="1143.8" x2="554.9" y2="1143.8" stroke="#000" stroke-width="3" stroke-linecap="butt"/>
<text x="277.7" y="1437.4" font-size="35" text-anchor="middle" font-weight="bold">c</text>
<text x="368" y="1437.4" font-size="35" text-anchor="middle" font-weight="bold">c</text>
<text x="460.5" y="1383.7" font-size="35" text-anchor="middle" font-weight="bold">b</text>
<text x="549.6" y="1133.9" font-size="35" text-anchor="middle" font-weight="bold">a</text>
<text x="278.2" y="1497.2" font-size="36" text-anchor="middle" font-weight="bold" textLength="20.5" lengthAdjust="spacingAndGlyphs">0</text>
<text x="366.5" y="1497.2" font-size="36" text-anchor="middle" font-weight="bold" textLength="20.5" lengthAdjust="spacingAndGlyphs">1</text>
<text x="457.8" y="1497.2" font-size="36" text-anchor="middle" font-weight="bold" textLength="20.5" lengthAdjust="spacingAndGlyphs">3</text>
<text x="546.8" y="1497.2" font-size="36" text-anchor="middle" font-weight="bold" textLength="20.5" lengthAdjust="spacingAndGlyphs">6</text>
<text x="586" y="1497.2" font-size="36" font-weight="bold" textLength="43" lengthAdjust="spacingAndGlyphs">(h)</text>
<line x1="349.9" y1="1506.2" x2="566.5" y2="1506.2" stroke="#000" stroke-width="3" stroke-linecap="butt"/>
<text x="459.2" y="1539.6" font-size="31" text-anchor="middle" font-weight="bold" textLength="96" lengthAdjust="spacingAndGlyphs">AGOs</text>
<text x="720.5" y="1058.7" font-size="31.5" font-weight="bold">C</text>
<line x1="972" y1="1057.5" x2="972" y2="1461" stroke="#000" stroke-width="3" stroke-linecap="butt"/>
<line x1="970.6" y1="1459.6" x2="1442.7" y2="1459.6" stroke="#000" stroke-width="3" stroke-linecap="butt"/>
<line x1="972" y1="1059.5" x2="979.7" y2="1059.5" stroke="#000" stroke-width="2.8" stroke-linecap="butt"/>
<text x="959.5" y="1077.4" font-size="36.5" text-anchor="end" font-weight="bold">5000</text>
<line x1="972" y1="1139.52" x2="979.7" y2="1139.52" stroke="#000" stroke-width="2.8" stroke-linecap="butt"/>
<text x="959.5" y="1155.7" font-size="36.5" text-anchor="end" font-weight="bold">4000</text>
<line x1="972" y1="1219.54" x2="979.7" y2="1219.54" stroke="#000" stroke-width="2.8" stroke-linecap="butt"/>
<text x="959.5" y="1234.3" font-size="36.5" text-anchor="end" font-weight="bold">3000</text>
<line x1="972" y1="1299.56" x2="979.7" y2="1299.56" stroke="#000" stroke-width="2.8" stroke-linecap="butt"/>
<text x="959.5" y="1314" font-size="36.5" text-anchor="end" font-weight="bold">2000</text>
<line x1="972" y1="1379.58" x2="979.7" y2="1379.58" stroke="#000" stroke-width="2.8" stroke-linecap="butt"/>
<text x="959.5" y="1391.9" font-size="36.5" text-anchor="end" font-weight="bold">1000</text>
<line x1="972" y1="1459.6" x2="979.7" y2="1459.6" stroke="#000" stroke-width="2.8" stroke-linecap="butt"/>
<text x="959.5" y="1471.6" font-size="36.5" text-anchor="end" font-weight="bold">0</text>
<text x="853.5" y="1226.4" font-size="37" font-weight="bold" text-anchor="middle" transform="rotate(-90 853.5 1226.4)" textLength="239.8" lengthAdjust="spacingAndGlyphs"><tspan font-family="'Liberation Sans', sans-serif">TNF-</tspan><tspan font-family="'Liberation Serif', serif" font-weight="normal">α</tspan><tspan font-family="'Liberation Sans', sans-serif"> (pg/ml)</tspan></text>
<rect x="1004.6" y="1420.6" width="40.6" height="39" fill="#fff" stroke="#000" stroke-width="2.6"/>
<line x1="1024.9" y1="1416.3" x2="1024.9" y2="1419.3" stroke="#000" stroke-width="2.6" stroke-linecap="butt"/>
<line x1="1014.9" y1="1416.3" x2="1034.9" y2="1416.3" stroke="#000" stroke-width="3" stroke-linecap="butt"/>
<rect x="1047.9" y="1429.7" width="40.6" height="29.9" fill="#000" stroke="#000" stroke-width="2.6"/>
<line x1="1068.2" y1="1425.4" x2="1068.2" y2="1428.4" stroke="#000" stroke-width="2.6" stroke-linecap="butt"/>
<line x1="1058.2" y1="1425.4" x2="1078.2" y2="1425.4" stroke="#000" stroke-width="3" stroke-linecap="butt"/>
<rect x="1091.2" y="1417" width="40.6" height="42.6" fill="#999" stroke="#000" stroke-width="2.6"/>
<line x1="1111.5" y1="1412.7" x2="1111.5" y2="1415.7" stroke="#000" stroke-width="2.6" stroke-linecap="butt"/>
<line x1="1101.5" y1="1412.7" x2="1121.5" y2="1412.7" stroke="#000" stroke-width="3" stroke-linecap="butt"/>
<rect x="1134.5" y="1430" width="40.6" height="29.6" fill="#3a3a3a" stroke="#000" stroke-width="2.6"/>
<line x1="1154.8" y1="1425.7" x2="1154.8" y2="1428.7" stroke="#000" stroke-width="2.6" stroke-linecap="butt"/>
<line x1="1144.8" y1="1425.7" x2="1164.8" y2="1425.7" stroke="#000" stroke-width="3" stroke-linecap="butt"/>
<rect x="1239.3" y="1129.9" width="40.6" height="329.7" fill="#fff" stroke="#000" stroke-width="2.6"/>
<rect x="1282.5" y="1364.2" width="40.6" height="95.4" fill="#000" stroke="#000" stroke-width="2.6"/>
<rect x="1325.7" y="1118.7" width="40.6" height="340.9" fill="#999" stroke="#000" stroke-width="2.6"/>
<rect x="1368.9" y="1226.2" width="40.6" height="233.4" fill="#3a3a3a" stroke="#000" stroke-width="2.6"/>
<line x1="1259.6" y1="1126.5" x2="1259.6" y2="1128.6" stroke="#000" stroke-width="2.6" stroke-linecap="butt"/>
<line x1="1251.6" y1="1126.5" x2="1267.6" y2="1126.5" stroke="#000" stroke-width="3" stroke-linecap="butt"/>
<line x1="1302.8" y1="1353.6" x2="1302.8" y2="1362.9" stroke="#000" stroke-width="2.6" stroke-linecap="butt"/>
<line x1="1293.3" y1="1353.6" x2="1312.3" y2="1353.6" stroke="#000" stroke-width="3" stroke-linecap="butt"/>
<line x1="1345.4" y1="1106.5" x2="1345.4" y2="1117.4" stroke="#000" stroke-width="2.6" stroke-linecap="butt"/>
<line x1="1335.9" y1="1106.5" x2="1354.9" y2="1106.5" stroke="#000" stroke-width="3" stroke-linecap="butt"/>
<line x1="1389.5" y1="1211.8" x2="1389.5" y2="1224.9" stroke="#000" stroke-width="2.6" stroke-linecap="butt"/>
<line x1="1380" y1="1211.8" x2="1399" y2="1211.8" stroke="#000" stroke-width="3" stroke-linecap="butt"/>
<text x="1024.5" y="1405" font-size="37" text-anchor="middle" font-weight="bold">d</text>
<text x="1067.8" y="1409.6" font-size="37" text-anchor="middle" font-weight="bold">d</text>
<text x="1111.5" y="1405" font-size="37" text-anchor="middle" font-weight="bold">d</text>
<text x="1155" y="1414.2" font-size="37" text-anchor="middle" font-weight="bold">d</text>
<text x="1259.6" y="1109.4" font-size="37" text-anchor="middle" font-weight="bold">a</text>
<text x="1302.5" y="1344.3" font-size="37" text-anchor="middle" font-weight="bold">c</text>
<text x="1345.4" y="1089" font-size="37" text-anchor="middle" font-weight="bold">a</text>
<text x="1388.5" y="1201.7" font-size="37" text-anchor="middle" font-weight="bold">b</text>
<rect x="1454.9" y="1299" width="301.6" height="160.6" fill="#fff" stroke="#000" stroke-width="3"/>
<rect x="1469" y="1312.1" width="20.2" height="20.2" fill="#fff" stroke="#000" stroke-width="2.4"/>
<text x="1501.2" y="1332.5" font-size="36" font-weight="bold" textLength="66" lengthAdjust="spacingAndGlyphs">Veh</text>
<rect x="1469" y="1350.17" width="20.2" height="20.2" fill="#000" stroke="#000" stroke-width="2.4"/>
<text x="1501.2" y="1370.57" font-size="36" font-weight="bold" textLength="104" lengthAdjust="spacingAndGlyphs">AGOs</text>
<rect x="1469" y="1388.24" width="20.2" height="20.2" fill="#999" stroke="#000" stroke-width="2.4"/>
<text x="1501.2" y="1408.64" font-size="36" font-weight="bold" textLength="207.5" lengthAdjust="spacingAndGlyphs">Veh + SnPP</text>
<rect x="1469" y="1426.31" width="20.2" height="20.2" fill="#3a3a3a" stroke="#000" stroke-width="2.4"/>
<text x="1501.2" y="1446.71" font-size="36" font-weight="bold" textLength="244.5" lengthAdjust="spacingAndGlyphs">AGOs + SnPP</text>
<text x="886.4" y="1509.4" font-size="36" font-weight="bold" textLength="70" lengthAdjust="spacingAndGlyphs">LPS</text>
<text x="1092.4" y="1508" font-size="38" text-anchor="middle" font-weight="bold">–</text>
<text x="1333" y="1507.5" font-size="36" text-anchor="middle" font-weight="bold">+</text>
<text x="25.5" y="1594.1" font-size="31" font-weight="bold">D</text>
<rect x="214.1" y="1922.12" width="24.4" height="2.08" fill="#d4d4d6" stroke="#000" stroke-width="2.4"/>
<line x1="226.3" y1="1919.94" x2="226.3" y2="1921.9" stroke="#000" stroke-width="2.4" stroke-linecap="butt"/>
<line x1="219.8" y1="1919.94" x2="232.8" y2="1919.94" stroke="#000" stroke-width="2.4" stroke-linecap="butt"/>
<line x1="219.8" y1="1921.9" x2="232.8" y2="1921.9" stroke="#000" stroke-width="2.4" stroke-linecap="butt"/>
<rect x="272.7" y="1922.12" width="24.4" height="2.08" fill="#d4d4d6" stroke="#000" stroke-width="2.4"/>
<line x1="284.9" y1="1919.94" x2="284.9" y2="1921.9" stroke="#000" stroke-width="2.4" stroke-linecap="butt"/>
<line x1="278.4" y1="1919.94" x2="291.4" y2="1919.94" stroke="#000" stroke-width="2.4" stroke-linecap="butt"/>
<line x1="278.4" y1="1921.9" x2="291.4" y2="1921.9" stroke="#000" stroke-width="2.4" stroke-linecap="butt"/>
<rect x="331.3" y="1626.6" width="24.4" height="297.6" fill="#d4d4d6" stroke="#000" stroke-width="2.4"/>
<line x1="343.5" y1="1618.84" x2="343.5" y2="1631.96" stroke="#000" stroke-width="2.4" stroke-linecap="butt"/>
<line x1="337" y1="1618.84" x2="350" y2="1618.84" stroke="#000" stroke-width="2.4" stroke-linecap="butt"/>
<line x1="337" y1="1631.96" x2="350" y2="1631.96" stroke="#000" stroke-width="2.4" stroke-linecap="butt"/>
<rect x="389.9" y="1659.39" width="24.4" height="264.81" fill="#d4d4d6" stroke="#000" stroke-width="2.4"/>
<line x1="402.1" y1="1648.76" x2="402.1" y2="1667.62" stroke="#000" stroke-width="2.4" stroke-linecap="butt"/>
<line x1="395.6" y1="1648.76" x2="408.6" y2="1648.76" stroke="#000" stroke-width="2.4" stroke-linecap="butt"/>
<line x1="395.6" y1="1667.62" x2="408.6" y2="1667.62" stroke="#000" stroke-width="2.4" stroke-linecap="butt"/>
<rect x="448.5" y="1679.88" width="24.4" height="244.32" fill="#d4d4d6" stroke="#000" stroke-width="2.4"/>
<line x1="460.7" y1="1667.62" x2="460.7" y2="1689.75" stroke="#000" stroke-width="2.4" stroke-linecap="butt"/>
<line x1="454.2" y1="1667.62" x2="467.2" y2="1667.62" stroke="#000" stroke-width="2.4" stroke-linecap="butt"/>
<line x1="454.2" y1="1689.75" x2="467.2" y2="1689.75" stroke="#000" stroke-width="2.4" stroke-linecap="butt"/>
<rect x="507.1" y="1727.1" width="24.4" height="197.1" fill="#d4d4d6" stroke="#000" stroke-width="2.4"/>
<line x1="519.3" y1="1717.3" x2="519.3" y2="1734.51" stroke="#000" stroke-width="2.4" stroke-linecap="butt"/>
<line x1="512.8" y1="1717.3" x2="525.8" y2="1717.3" stroke="#000" stroke-width="2.4" stroke-linecap="butt"/>
<line x1="512.8" y1="1734.51" x2="525.8" y2="1734.51" stroke="#000" stroke-width="2.4" stroke-linecap="butt"/>
<rect x="565.7" y="1815.23" width="24.4" height="108.97" fill="#d4d4d6" stroke="#000" stroke-width="2.4"/>
<line x1="577.9" y1="1812.8" x2="577.9" y2="1815.26" stroke="#000" stroke-width="2.4" stroke-linecap="butt"/>
<line x1="571.4" y1="1812.8" x2="584.4" y2="1812.8" stroke="#000" stroke-width="2.4" stroke-linecap="butt"/>
<line x1="571.4" y1="1815.26" x2="584.4" y2="1815.26" stroke="#000" stroke-width="2.4" stroke-linecap="butt"/>
<text x="402.1" y="1641.3" font-size="18" text-anchor="middle">*</text>
<text x="460.7" y="1659.7" font-size="18" text-anchor="middle">*</text>
<text x="519.3" y="1708.2" font-size="18" text-anchor="middle">*</text>
<text x="577.9" y="1800.7" font-size="18" text-anchor="middle">*</text>
<rect x="198.4" y="1596.3" width="411.8" height="327.9" fill="none" stroke="#000" stroke-width="2.6"/>
<line x1="198.4" y1="1883.21" x2="205.4" y2="1883.21" stroke="#000" stroke-width="2.4" stroke-linecap="butt"/>
<line x1="198.4" y1="1842.22" x2="205.4" y2="1842.22" stroke="#000" stroke-width="2.4" stroke-linecap="butt"/>
<line x1="198.4" y1="1801.24" x2="205.4" y2="1801.24" stroke="#000" stroke-width="2.4" stroke-linecap="butt"/>
<line x1="198.4" y1="1760.25" x2="205.4" y2="1760.25" stroke="#000" stroke-width="2.4" stroke-linecap="butt"/>
<line x1="198.4" y1="1719.26" x2="205.4" y2="1719.26" stroke="#000" stroke-width="2.4" stroke-linecap="butt"/>
<line x1="198.4" y1="1678.28" x2="205.4" y2="1678.28" stroke="#000" stroke-width="2.4" stroke-linecap="butt"/>
<line x1="198.4" y1="1637.29" x2="205.4" y2="1637.29" stroke="#000" stroke-width="2.4" stroke-linecap="butt"/>
<line x1="198.4" y1="1596.3" x2="205.4" y2="1596.3" stroke="#000" stroke-width="2.4" stroke-linecap="butt"/>
<text x="174.4" y="1934.2" font-size="28" text-anchor="end">0</text>
<text x="174.4" y="1893.21" font-size="28" text-anchor="end">5</text>
<text x="174.4" y="1852.22" font-size="28" text-anchor="end">10</text>
<text x="174.4" y="1811.24" font-size="28" text-anchor="end">15</text>
<text x="174.4" y="1770.25" font-size="28" text-anchor="end">20</text>
<text x="174.4" y="1729.26" font-size="28" text-anchor="end">25</text>
<text x="174.4" y="1688.28" font-size="28" text-anchor="end">30</text>
<text x="174.4" y="1647.29" font-size="28" text-anchor="end">35</text>
<text x="174.4" y="1606.3" font-size="28" text-anchor="end">40</text>
<line x1="256.8" y1="1924.2" x2="256.8" y2="1917.2" stroke="#000" stroke-width="2.4" stroke-linecap="butt"/>
<line x1="315.4" y1="1924.2" x2="315.4" y2="1917.2" stroke="#000" stroke-width="2.4" stroke-linecap="butt"/>
<line x1="374" y1="1924.2" x2="374" y2="1917.2" stroke="#000" stroke-width="2.4" stroke-linecap="butt"/>
<line x1="432.6" y1="1924.2" x2="432.6" y2="1917.2" stroke="#000" stroke-width="2.4" stroke-linecap="butt"/>
<line x1="491.2" y1="1924.2" x2="491.2" y2="1917.2" stroke="#000" stroke-width="2.4" stroke-linecap="butt"/>
<line x1="549.8" y1="1924.2" x2="549.8" y2="1917.2" stroke="#000" stroke-width="2.4" stroke-linecap="butt"/>
<text x="226.3" y="1959.2" font-size="28" text-anchor="middle">0</text>
<text x="284.9" y="1959.2" font-size="28" text-anchor="middle">200</text>
<text x="343.5" y="1959.2" font-size="28" text-anchor="middle">0</text>
<text x="402.1" y="1959.2" font-size="28" text-anchor="middle">25</text>
<text x="460.7" y="1959.2" font-size="28" text-anchor="middle">50</text>
<text x="519.3" y="1959.2" font-size="28" text-anchor="middle">100</text>
<text x="578.9" y="1959.2" font-size="28" text-anchor="middle">200</text>
<text x="187.4" y="1959.2" font-size="28" text-anchor="end"><tspan font-family="'Liberation Sans', sans-serif">AB (μ</tspan><tspan font-family="'Liberation Sans', sans-serif" font-size="20">M</tspan><tspan font-family="'Liberation Sans', sans-serif">)</tspan></text>
<line x1="204.5" y1="1973.6" x2="313.6" y2="1973.6" stroke="#000" stroke-width="2.4" stroke-linecap="butt"/>
<line x1="326" y1="1973.6" x2="598.6" y2="1973.6" stroke="#000" stroke-width="2.4" stroke-linecap="butt"/>
<text x="263.2" y="2006.6" font-size="28" text-anchor="middle">-LPS</text>
<text x="473.7" y="2006.6" font-size="28" text-anchor="middle">+LPS</text>
<text x="118.5" y="1753.25" font-size="28" text-anchor="middle" transform="rotate(-90 118.5 1753.25)"><tspan font-family="'Liberation Sans', sans-serif">Nitrite (μ</tspan><tspan font-family="'Liberation Sans', sans-serif" font-size="20">M</tspan><tspan font-family="'Liberation Sans', sans-serif">)</tspan></text>
<rect x="774.9" y="1922.22" width="24.4" height="2.08" fill="#d4d4d6" stroke="#000" stroke-width="2.4"/>
<line x1="787.1" y1="1920.04" x2="787.1" y2="1922" stroke="#000" stroke-width="2.4" stroke-linecap="butt"/>
<line x1="780.6" y1="1920.04" x2="793.6" y2="1920.04" stroke="#000" stroke-width="2.4" stroke-linecap="butt"/>
<line x1="780.6" y1="1922" x2="793.6" y2="1922" stroke="#000" stroke-width="2.4" stroke-linecap="butt"/>
<rect x="833.7" y="1922.22" width="24.4" height="2.08" fill="#d4d4d6" stroke="#000" stroke-width="2.4"/>
<line x1="845.9" y1="1920.04" x2="845.9" y2="1922" stroke="#000" stroke-width="2.4" stroke-linecap="butt"/>
<line x1="839.4" y1="1920.04" x2="852.4" y2="1920.04" stroke="#000" stroke-width="2.4" stroke-linecap="butt"/>
<line x1="839.4" y1="1922" x2="852.4" y2="1922" stroke="#000" stroke-width="2.4" stroke-linecap="butt"/>
<rect x="892.5" y="1633.17" width="24.4" height="291.13" fill="#d4d4d6" stroke="#000" stroke-width="2.4"/>
<line x1="904.7" y1="1624.59" x2="904.7" y2="1639.35" stroke="#000" stroke-width="2.4" stroke-linecap="butt"/>
<line x1="898.2" y1="1624.59" x2="911.2" y2="1624.59" stroke="#000" stroke-width="2.4" stroke-linecap="butt"/>
<line x1="898.2" y1="1639.35" x2="911.2" y2="1639.35" stroke="#000" stroke-width="2.4" stroke-linecap="butt"/>
<rect x="951.3" y="1639.32" width="24.4" height="284.98" fill="#d4d4d6" stroke="#000" stroke-width="2.4"/>
<line x1="963.5" y1="1622.95" x2="963.5" y2="1653.29" stroke="#000" stroke-width="2.4" stroke-linecap="butt"/>
<line x1="957" y1="1622.95" x2="970" y2="1622.95" stroke="#000" stroke-width="2.4" stroke-linecap="butt"/>
<line x1="957" y1="1653.29" x2="970" y2="1653.29" stroke="#000" stroke-width="2.4" stroke-linecap="butt"/>
<rect x="1010.1" y="1670.23" width="24.4" height="254.07" fill="#d4d4d6" stroke="#000" stroke-width="2.4"/>
<line x1="1022.3" y1="1656.73" x2="1022.3" y2="1681.33" stroke="#000" stroke-width="2.4" stroke-linecap="butt"/>
<line x1="1015.8" y1="1656.73" x2="1028.8" y2="1656.73" stroke="#000" stroke-width="2.4" stroke-linecap="butt"/>
<line x1="1015.8" y1="1681.33" x2="1028.8" y2="1681.33" stroke="#000" stroke-width="2.4" stroke-linecap="butt"/>
<rect x="1068.9" y="1710.09" width="24.4" height="214.21" fill="#d4d4d6" stroke="#000" stroke-width="2.4"/>
<line x1="1081.1" y1="1697.41" x2="1081.1" y2="1720.37" stroke="#000" stroke-width="2.4" stroke-linecap="butt"/>
<line x1="1074.6" y1="1697.41" x2="1087.6" y2="1697.41" stroke="#000" stroke-width="2.4" stroke-linecap="butt"/>
<line x1="1074.6" y1="1720.37" x2="1087.6" y2="1720.37" stroke="#000" stroke-width="2.4" stroke-linecap="butt"/>
<rect x="1127.7" y="1798.07" width="24.4" height="126.23" fill="#d4d4d6" stroke="#000" stroke-width="2.4"/>
<text x="1022.3" y="1647.1" font-size="18" text-anchor="middle">*</text>
<text x="1081.1" y="1687" font-size="18" text-anchor="middle">*</text>
<text x="1139.9" y="1786.2" font-size="18" text-anchor="middle">*</text>
<rect x="759.1" y="1596.3" width="410.1" height="328" fill="none" stroke="#000" stroke-width="2.6"/>
<line x1="759.1" y1="1883.3" x2="766.1" y2="1883.3" stroke="#000" stroke-width="2.4" stroke-linecap="butt"/>
<line x1="759.1" y1="1842.3" x2="766.1" y2="1842.3" stroke="#000" stroke-width="2.4" stroke-linecap="butt"/>
<line x1="759.1" y1="1801.3" x2="766.1" y2="1801.3" stroke="#000" stroke-width="2.4" stroke-linecap="butt"/>
<line x1="759.1" y1="1760.3" x2="766.1" y2="1760.3" stroke="#000" stroke-width="2.4" stroke-linecap="butt"/>
<line x1="759.1" y1="1719.3" x2="766.1" y2="1719.3" stroke="#000" stroke-width="2.4" stroke-linecap="butt"/>
<line x1="759.1" y1="1678.3" x2="766.1" y2="1678.3" stroke="#000" stroke-width="2.4" stroke-linecap="butt"/>
<line x1="759.1" y1="1637.3" x2="766.1" y2="1637.3" stroke="#000" stroke-width="2.4" stroke-linecap="butt"/>
<line x1="759.1" y1="1596.3" x2="766.1" y2="1596.3" stroke="#000" stroke-width="2.4" stroke-linecap="butt"/>
<text x="736.2" y="1934.3" font-size="28" text-anchor="end">0</text>
<text x="736.2" y="1893.3" font-size="28" text-anchor="end">5</text>
<text x="736.2" y="1852.3" font-size="28" text-anchor="end">10</text>
<text x="736.2" y="1811.3" font-size="28" text-anchor="end">15</text>
<text x="736.2" y="1770.3" font-size="28" text-anchor="end">20</text>
<text x="736.2" y="1729.3" font-size="28" text-anchor="end">25</text>
<text x="736.2" y="1688.3" font-size="28" text-anchor="end">30</text>
<text x="736.2" y="1647.3" font-size="28" text-anchor="end">35</text>
<text x="736.2" y="1606.3" font-size="28" text-anchor="end">40</text>
<line x1="817.5" y1="1924.3" x2="817.5" y2="1917.3" stroke="#000" stroke-width="2.4" stroke-linecap="butt"/>
<line x1="876.3" y1="1924.3" x2="876.3" y2="1917.3" stroke="#000" stroke-width="2.4" stroke-linecap="butt"/>
<line x1="935.1" y1="1924.3" x2="935.1" y2="1917.3" stroke="#000" stroke-width="2.4" stroke-linecap="butt"/>
<line x1="993.9" y1="1924.3" x2="993.9" y2="1917.3" stroke="#000" stroke-width="2.4" stroke-linecap="butt"/>
<line x1="1052.7" y1="1924.3" x2="1052.7" y2="1917.3" stroke="#000" stroke-width="2.4" stroke-linecap="butt"/>
<line x1="1111.5" y1="1924.3" x2="1111.5" y2="1917.3" stroke="#000" stroke-width="2.4" stroke-linecap="butt"/>
<text x="787.1" y="1959.5" font-size="28" text-anchor="middle">0</text>
<text x="845.9" y="1959.5" font-size="28" text-anchor="middle">200</text>
<text x="904.7" y="1959.5" font-size="28" text-anchor="middle">0</text>
<text x="963.5" y="1959.5" font-size="28" text-anchor="middle">25</text>
<text x="1022.3" y="1959.5" font-size="28" text-anchor="middle">50</text>
<text x="1081.1" y="1959.5" font-size="28" text-anchor="middle">100</text>
<text x="1140.9" y="1959.5" font-size="28" text-anchor="middle">200</text>
<text x="746.2" y="1959.5" font-size="28" text-anchor="end"><tspan font-family="'Liberation Sans', sans-serif">AT (μ</tspan><tspan font-family="'Liberation Sans', sans-serif" font-size="20">M</tspan><tspan font-family="'Liberation Sans', sans-serif">)</tspan></text>
<line x1="765.3" y1="1973" x2="875.3" y2="1973" stroke="#000" stroke-width="2.4" stroke-linecap="butt"/>
<line x1="885.9" y1="1973" x2="1161.2" y2="1973" stroke="#000" stroke-width="2.4" stroke-linecap="butt"/>
<text x="824.3" y="2006.7" font-size="28" text-anchor="middle">-LPS</text>
<text x="1034.6" y="2006.7" font-size="28" text-anchor="middle">+LPS</text>
<text x="679.5" y="1753.3" font-size="28" text-anchor="middle" transform="rotate(-90 679.5 1753.3)"><tspan font-family="'Liberation Sans', sans-serif">Nitrite (μ</tspan><tspan font-family="'Liberation Sans', sans-serif" font-size="20">M</tspan><tspan font-family="'Liberation Sans', sans-serif">)</tspan></text>
<rect x="1338.2" y="1923.77" width="24.4" height="4.13" fill="#d4d4d6" stroke="#000" stroke-width="2.4"/>
<line x1="1350.4" y1="1921.34" x2="1350.4" y2="1923.8" stroke="#000" stroke-width="2.4" stroke-linecap="butt"/>
<line x1="1343.9" y1="1921.34" x2="1356.9" y2="1921.34" stroke="#000" stroke-width="2.4" stroke-linecap="butt"/>
<line x1="1343.9" y1="1923.8" x2="1356.9" y2="1923.8" stroke="#000" stroke-width="2.4" stroke-linecap="butt"/>
<rect x="1396.7" y="1922.54" width="24.4" height="5.36" fill="#d4d4d6" stroke="#000" stroke-width="2.4"/>
<rect x="1455.2" y="1630.22" width="24.4" height="297.68" fill="#d4d4d6" stroke="#000" stroke-width="2.4"/>
<line x1="1467.4" y1="1620" x2="1467.4" y2="1638.04" stroke="#000" stroke-width="2.4" stroke-linecap="butt"/>
<line x1="1460.9" y1="1620" x2="1473.9" y2="1620" stroke="#000" stroke-width="2.4" stroke-linecap="butt"/>
<line x1="1460.9" y1="1638.04" x2="1473.9" y2="1638.04" stroke="#000" stroke-width="2.4" stroke-linecap="butt"/>
<rect x="1513.7" y="1653.83" width="24.4" height="274.07" fill="#d4d4d6" stroke="#000" stroke-width="2.4"/>
<line x1="1525.9" y1="1646.89" x2="1525.9" y2="1658.37" stroke="#000" stroke-width="2.4" stroke-linecap="butt"/>
<line x1="1519.4" y1="1646.89" x2="1532.4" y2="1646.89" stroke="#000" stroke-width="2.4" stroke-linecap="butt"/>
<line x1="1519.4" y1="1658.37" x2="1532.4" y2="1658.37" stroke="#000" stroke-width="2.4" stroke-linecap="butt"/>
<rect x="1572.2" y="1679.16" width="24.4" height="248.74" fill="#d4d4d6" stroke="#000" stroke-width="2.4"/>
<line x1="1584.4" y1="1664.43" x2="1584.4" y2="1691.48" stroke="#000" stroke-width="2.4" stroke-linecap="butt"/>
<line x1="1577.9" y1="1664.43" x2="1590.9" y2="1664.43" stroke="#000" stroke-width="2.4" stroke-linecap="butt"/>
<line x1="1577.9" y1="1691.48" x2="1590.9" y2="1691.48" stroke="#000" stroke-width="2.4" stroke-linecap="butt"/>
<rect x="1630.7" y="1718.1" width="24.4" height="209.8" fill="#d4d4d6" stroke="#000" stroke-width="2.4"/>
<line x1="1642.9" y1="1710.34" x2="1642.9" y2="1723.45" stroke="#000" stroke-width="2.4" stroke-linecap="butt"/>
<line x1="1636.4" y1="1710.34" x2="1649.4" y2="1710.34" stroke="#000" stroke-width="2.4" stroke-linecap="butt"/>
<line x1="1636.4" y1="1723.45" x2="1649.4" y2="1723.45" stroke="#000" stroke-width="2.4" stroke-linecap="butt"/>
<rect x="1689.2" y="1799.83" width="24.4" height="128.07" fill="#d4d4d6" stroke="#000" stroke-width="2.4"/>
<line x1="1701.4" y1="1791.25" x2="1701.4" y2="1806" stroke="#000" stroke-width="2.4" stroke-linecap="butt"/>
<line x1="1694.9" y1="1791.25" x2="1707.9" y2="1791.25" stroke="#000" stroke-width="2.4" stroke-linecap="butt"/>
<line x1="1694.9" y1="1806" x2="1707.9" y2="1806" stroke="#000" stroke-width="2.4" stroke-linecap="butt"/>
<text x="1525.9" y="1636.2" font-size="18" text-anchor="middle">*</text>
<text x="1584.4" y="1655.4" font-size="18" text-anchor="middle">*</text>
<text x="1642.9" y="1702.7" font-size="18" text-anchor="middle">*</text>
<text x="1701.4" y="1786.2" font-size="18" text-anchor="middle">*</text>
<rect x="1320.9" y="1600" width="411.9" height="327.9" fill="none" stroke="#000" stroke-width="2.6"/>
<line x1="1320.9" y1="1886.91" x2="1327.9" y2="1886.91" stroke="#000" stroke-width="2.4" stroke-linecap="butt"/>
<line x1="1320.9" y1="1845.93" x2="1327.9" y2="1845.93" stroke="#000" stroke-width="2.4" stroke-linecap="butt"/>
<line x1="1320.9" y1="1804.94" x2="1327.9" y2="1804.94" stroke="#000" stroke-width="2.4" stroke-linecap="butt"/>
<line x1="1320.9" y1="1763.95" x2="1327.9" y2="1763.95" stroke="#000" stroke-width="2.4" stroke-linecap="butt"/>
<line x1="1320.9" y1="1722.96" x2="1327.9" y2="1722.96" stroke="#000" stroke-width="2.4" stroke-linecap="butt"/>
<line x1="1320.9" y1="1681.98" x2="1327.9" y2="1681.98" stroke="#000" stroke-width="2.4" stroke-linecap="butt"/>
<line x1="1320.9" y1="1640.99" x2="1327.9" y2="1640.99" stroke="#000" stroke-width="2.4" stroke-linecap="butt"/>
<line x1="1320.9" y1="1600" x2="1327.9" y2="1600" stroke="#000" stroke-width="2.4" stroke-linecap="butt"/>
<text x="1298" y="1937.9" font-size="28" text-anchor="end">0</text>
<text x="1298" y="1896.91" font-size="28" text-anchor="end">5</text>
<text x="1298" y="1855.93" font-size="28" text-anchor="end">10</text>
<text x="1298" y="1814.94" font-size="28" text-anchor="end">15</text>
<text x="1298" y="1773.95" font-size="28" text-anchor="end">20</text>
<text x="1298" y="1732.96" font-size="28" text-anchor="end">25</text>
<text x="1298" y="1691.98" font-size="28" text-anchor="end">30</text>
<text x="1298" y="1650.99" font-size="28" text-anchor="end">35</text>
<text x="1298" y="1610" font-size="28" text-anchor="end">40</text>
<line x1="1380.4" y1="1927.9" x2="1380.4" y2="1920.9" stroke="#000" stroke-width="2.4" stroke-linecap="butt"/>
<line x1="1438.9" y1="1927.9" x2="1438.9" y2="1920.9" stroke="#000" stroke-width="2.4" stroke-linecap="butt"/>
<line x1="1497.4" y1="1927.9" x2="1497.4" y2="1920.9" stroke="#000" stroke-width="2.4" stroke-linecap="butt"/>
<line x1="1555.9" y1="1927.9" x2="1555.9" y2="1920.9" stroke="#000" stroke-width="2.4" stroke-linecap="butt"/>
<line x1="1614.4" y1="1927.9" x2="1614.4" y2="1920.9" stroke="#000" stroke-width="2.4" stroke-linecap="butt"/>
<line x1="1672.9" y1="1927.9" x2="1672.9" y2="1920.9" stroke="#000" stroke-width="2.4" stroke-linecap="butt"/>
<text x="1350.4" y="1965" font-size="28" text-anchor="middle">0</text>
<text x="1408.9" y="1965" font-size="28" text-anchor="middle">200</text>
<text x="1467.4" y="1965" font-size="28" text-anchor="middle">0</text>
<text x="1525.9" y="1965" font-size="28" text-anchor="middle">25</text>
<text x="1584.4" y="1965" font-size="28" text-anchor="middle">50</text>
<text x="1642.9" y="1965" font-size="28" text-anchor="middle">100</text>
<text x="1702.4" y="1965" font-size="28" text-anchor="middle">200</text>
<text x="1311" y="1965" font-size="28" text-anchor="end"><tspan font-family="'Liberation Sans', sans-serif">AH (μ</tspan><tspan font-family="'Liberation Sans', sans-serif" font-size="20">M</tspan><tspan font-family="'Liberation Sans', sans-serif">)</tspan></text>
<line x1="1327.8" y1="1978.4" x2="1436.8" y2="1978.4" stroke="#000" stroke-width="2.4" stroke-linecap="butt"/>
<line x1="1448.8" y1="1978.4" x2="1723" y2="1978.4" stroke="#000" stroke-width="2.4" stroke-linecap="butt"/>
<text x="1386.2" y="2012.2" font-size="28" text-anchor="middle">-LPS</text>
<text x="1598.1" y="2012.2" font-size="28" text-anchor="middle">+LPS</text>
<text x="1240.5" y="1756.95" font-size="28" text-anchor="middle" transform="rotate(-90 1240.5 1756.95)"><tspan font-family="'Liberation Sans', sans-serif">Nitrite (μ</tspan><tspan font-family="'Liberation Sans', sans-serif" font-size="20">M</tspan><tspan font-family="'Liberation Sans', sans-serif">)</tspan></text>
<text x="11" y="2059" font-size="31.5" font-weight="bold">E</text>
<rect x="148.9" y="2349.9" width="33.4" height="64.1" fill="#fff" stroke="#1a1a1a" stroke-width="1.8"/>
<rect x="184.1" y="2099.5" width="37.3" height="314.5" fill="#7f7f7f" stroke="#1a1a1a" stroke-width="1.8"/>
<line x1="165.6" y1="2344.9" x2="165.6" y2="2352.4" stroke="#1a1a1a" stroke-width="1.8" stroke-linecap="butt"/>
<line x1="157.4" y1="2344.9" x2="173.8" y2="2344.9" stroke="#1a1a1a" stroke-width="1.8" stroke-linecap="butt"/>
<line x1="157.4" y1="2352.4" x2="173.8" y2="2352.4" stroke="#1a1a1a" stroke-width="1.8" stroke-linecap="butt"/>
<line x1="202.75" y1="2083.6" x2="202.75" y2="2112.6" stroke="#1a1a1a" stroke-width="1.8" stroke-linecap="butt"/>
<line x1="194.55" y1="2083.6" x2="210.95" y2="2083.6" stroke="#1a1a1a" stroke-width="1.8" stroke-linecap="butt"/>
<line x1="194.55" y1="2112.6" x2="210.95" y2="2112.6" stroke="#1a1a1a" stroke-width="1.8" stroke-linecap="butt"/>
<rect x="277.2" y="2344" width="36.9" height="70" fill="#fff" stroke="#1a1a1a" stroke-width="1.8"/>
<rect x="315.9" y="2235.8" width="33.9" height="178.2" fill="#7f7f7f" stroke="#1a1a1a" stroke-width="1.8"/>
<line x1="295.65" y1="2338" x2="295.65" y2="2348.3" stroke="#1a1a1a" stroke-width="1.8" stroke-linecap="butt"/>
<line x1="287.45" y1="2338" x2="303.85" y2="2338" stroke="#1a1a1a" stroke-width="1.8" stroke-linecap="butt"/>
<line x1="287.45" y1="2348.3" x2="303.85" y2="2348.3" stroke="#1a1a1a" stroke-width="1.8" stroke-linecap="butt"/>
<line x1="332.85" y1="2213.5" x2="332.85" y2="2256.7" stroke="#1a1a1a" stroke-width="1.8" stroke-linecap="butt"/>
<line x1="324.65" y1="2213.5" x2="341.05" y2="2213.5" stroke="#1a1a1a" stroke-width="1.8" stroke-linecap="butt"/>
<line x1="324.65" y1="2256.7" x2="341.05" y2="2256.7" stroke="#1a1a1a" stroke-width="1.8" stroke-linecap="butt"/>
<rect x="406.6" y="2353.3" width="35.2" height="60.7" fill="#fff" stroke="#1a1a1a" stroke-width="1.8"/>
<rect x="443.6" y="2204.4" width="37.1" height="209.6" fill="#7f7f7f" stroke="#1a1a1a" stroke-width="1.8"/>
<line x1="424.2" y1="2348.3" x2="424.2" y2="2355.9" stroke="#1a1a1a" stroke-width="1.8" stroke-linecap="butt"/>
<line x1="416" y1="2348.3" x2="432.4" y2="2348.3" stroke="#1a1a1a" stroke-width="1.8" stroke-linecap="butt"/>
<line x1="416" y1="2355.9" x2="432.4" y2="2355.9" stroke="#1a1a1a" stroke-width="1.8" stroke-linecap="butt"/>
<line x1="462.15" y1="2181.3" x2="462.15" y2="2224.3" stroke="#1a1a1a" stroke-width="1.8" stroke-linecap="butt"/>
<line x1="453.95" y1="2181.3" x2="470.35" y2="2181.3" stroke="#1a1a1a" stroke-width="1.8" stroke-linecap="butt"/>
<line x1="453.95" y1="2224.3" x2="470.35" y2="2224.3" stroke="#1a1a1a" stroke-width="1.8" stroke-linecap="butt"/>
<rect x="538.4" y="2349.9" width="35.5" height="64.1" fill="#fff" stroke="#1a1a1a" stroke-width="1.8"/>
<rect x="575.7" y="2250.7" width="33.4" height="163.3" fill="#7f7f7f" stroke="#1a1a1a" stroke-width="1.8"/>
<line x1="556.15" y1="2344.9" x2="556.15" y2="2352.4" stroke="#1a1a1a" stroke-width="1.8" stroke-linecap="butt"/>
<line x1="547.95" y1="2344.9" x2="564.35" y2="2344.9" stroke="#1a1a1a" stroke-width="1.8" stroke-linecap="butt"/>
<line x1="547.95" y1="2352.4" x2="564.35" y2="2352.4" stroke="#1a1a1a" stroke-width="1.8" stroke-linecap="butt"/>
<line x1="592.4" y1="2242.5" x2="592.4" y2="2257.5" stroke="#1a1a1a" stroke-width="1.8" stroke-linecap="butt"/>
<line x1="584.2" y1="2242.5" x2="600.6" y2="2242.5" stroke="#1a1a1a" stroke-width="1.8" stroke-linecap="butt"/>
<line x1="584.2" y1="2257.5" x2="600.6" y2="2257.5" stroke="#1a1a1a" stroke-width="1.8" stroke-linecap="butt"/>
<rect x="119.5" y="2066" width="520" height="348" fill="none" stroke="#1a1a1a" stroke-width="1.8"/>
<line x1="109" y1="2414" x2="119.5" y2="2414" stroke="#1a1a1a" stroke-width="1.8" stroke-linecap="butt"/>
<text x="100.8" y="2424" font-size="28" text-anchor="end">0</text>
<line x1="109" y1="2356" x2="119.5" y2="2356" stroke="#1a1a1a" stroke-width="1.8" stroke-linecap="butt"/>
<text x="100.8" y="2366" font-size="28" text-anchor="end">5</text>
<line x1="109" y1="2298" x2="119.5" y2="2298" stroke="#1a1a1a" stroke-width="1.8" stroke-linecap="butt"/>
<text x="100.8" y="2308" font-size="28" text-anchor="end">10</text>
<line x1="109" y1="2240" x2="119.5" y2="2240" stroke="#1a1a1a" stroke-width="1.8" stroke-linecap="butt"/>
<text x="100.8" y="2250" font-size="28" text-anchor="end">15</text>
<line x1="109" y1="2182" x2="119.5" y2="2182" stroke="#1a1a1a" stroke-width="1.8" stroke-linecap="butt"/>
<text x="100.8" y="2192" font-size="28" text-anchor="end">20</text>
<line x1="109" y1="2124" x2="119.5" y2="2124" stroke="#1a1a1a" stroke-width="1.8" stroke-linecap="butt"/>
<text x="100.8" y="2134" font-size="28" text-anchor="end">25</text>
<line x1="109" y1="2066" x2="119.5" y2="2066" stroke="#1a1a1a" stroke-width="1.8" stroke-linecap="butt"/>
<text x="100.8" y="2076" font-size="28" text-anchor="end">30</text>
<text x="52" y="2240.2" font-size="29.5" text-anchor="middle" transform="rotate(-90 52 2240.2)"><tspan font-family="'Liberation Sans', sans-serif">Nitrite (</tspan><tspan font-family="'Liberation Serif', serif">μ</tspan><tspan font-family="'Liberation Sans', sans-serif">M)</tspan></text>
<text x="334.3" y="2214.4" font-size="24" text-anchor="middle" letter-spacing="3">**</text>
<text x="462.7" y="2180.8" font-size="24" text-anchor="middle" letter-spacing="3">**</text>
<text x="592.7" y="2241.7" font-size="24" text-anchor="middle" letter-spacing="3">**</text>
<rect x="408" y="2087.7" width="15.8" height="15.8" fill="#fff" stroke="#1a1a1a" stroke-width="1.6"/>
<rect x="408.9" y="2121.6" width="15.8" height="15.8" fill="#7f7f7f" stroke="#1a1a1a" stroke-width="1.6"/>
<text x="435.4" y="2104.5" font-size="29" textLength="179.8" lengthAdjust="spacingAndGlyphs">no stimulation</text>
<text x="435.4" y="2139.9" font-size="29" textLength="141.6" lengthAdjust="spacingAndGlyphs"><tspan font-family="'Liberation Sans', sans-serif">LPS+IFN-</tspan><tspan font-family="'Liberation Serif', serif">γ</tspan></text>
<text x="183.5" y="2451.8" font-size="30" text-anchor="middle">Cont.</text>
<text x="313.5" y="2451.8" font-size="30" text-anchor="middle">AGOs</text>
<text x="443" y="2451.8" font-size="30" text-anchor="middle">AB</text>
<text x="569.6" y="2451.8" font-size="30" text-anchor="middle">AT</text>
<text x="694" y="2059" font-size="30" font-weight="bold">F</text>
<rect x="856.3" y="2219.8" width="24.4" height="178.4" fill="#808080" stroke="#222" stroke-width="1.8"/>
<line x1="868.5" y1="2185.4" x2="868.5" y2="2252.3" stroke="#222" stroke-width="1.8" stroke-linecap="butt"/>
<line x1="866" y1="2185.4" x2="871" y2="2185.4" stroke="#222" stroke-width="1.8" stroke-linecap="butt"/>
<line x1="866" y1="2252.3" x2="871" y2="2252.3" stroke="#222" stroke-width="1.8" stroke-linecap="butt"/>
<rect x="939.9" y="2195.1" width="25" height="203.1" fill="#808080" stroke="#222" stroke-width="1.8"/>
<line x1="952.4" y1="2153.5" x2="952.4" y2="2234.5" stroke="#222" stroke-width="1.8" stroke-linecap="butt"/>
<line x1="949.9" y1="2153.5" x2="954.9" y2="2153.5" stroke="#222" stroke-width="1.8" stroke-linecap="butt"/>
<line x1="949.9" y1="2234.5" x2="954.9" y2="2234.5" stroke="#222" stroke-width="1.8" stroke-linecap="butt"/>
<rect x="1024.3" y="2150" width="25.5" height="248.2" fill="#808080" stroke="#222" stroke-width="1.8"/>
<line x1="1037.05" y1="2112" x2="1037.05" y2="2185.9" stroke="#222" stroke-width="1.8" stroke-linecap="butt"/>
<line x1="1034.55" y1="2112" x2="1039.55" y2="2112" stroke="#222" stroke-width="1.8" stroke-linecap="butt"/>
<line x1="1034.55" y1="2185.9" x2="1039.55" y2="2185.9" stroke="#222" stroke-width="1.8" stroke-linecap="butt"/>
<rect x="1108.4" y="2144.6" width="25.4" height="253.6" fill="#808080" stroke="#222" stroke-width="1.8"/>
<line x1="1121.1" y1="2121.9" x2="1121.1" y2="2165.1" stroke="#222" stroke-width="1.8" stroke-linecap="butt"/>
<line x1="1118.6" y1="2121.9" x2="1123.6" y2="2121.9" stroke="#222" stroke-width="1.8" stroke-linecap="butt"/>
<line x1="1118.6" y1="2165.1" x2="1123.6" y2="2165.1" stroke="#222" stroke-width="1.8" stroke-linecap="butt"/>
<rect x="1193" y="2217.2" width="25.5" height="181" fill="#808080" stroke="#222" stroke-width="1.8"/>
<line x1="1205.75" y1="2192.3" x2="1205.75" y2="2240.7" stroke="#222" stroke-width="1.8" stroke-linecap="butt"/>
<line x1="1203.25" y1="2192.3" x2="1208.25" y2="2192.3" stroke="#222" stroke-width="1.8" stroke-linecap="butt"/>
<line x1="1203.25" y1="2240.7" x2="1208.25" y2="2240.7" stroke="#222" stroke-width="1.8" stroke-linecap="butt"/>
<line x1="826.4" y1="2065.6" x2="826.4" y2="2399.1" stroke="#222" stroke-width="1.7" stroke-linecap="butt"/>
<line x1="819.8" y1="2398.2" x2="1247.3" y2="2398.2" stroke="#222" stroke-width="1.7" stroke-linecap="butt"/>
<line x1="819.8" y1="2398.2" x2="826.4" y2="2398.2" stroke="#222" stroke-width="1.7" stroke-linecap="butt"/>
<text x="805.2" y="2406.5" font-size="23" text-anchor="end">0</text>
<line x1="819.8" y1="2331.68" x2="826.4" y2="2331.68" stroke="#222" stroke-width="1.7" stroke-linecap="butt"/>
<text x="805.2" y="2339.98" font-size="23" text-anchor="end">100</text>
<line x1="819.8" y1="2265.16" x2="826.4" y2="2265.16" stroke="#222" stroke-width="1.7" stroke-linecap="butt"/>
<text x="805.2" y="2273.46" font-size="23" text-anchor="end">200</text>
<line x1="819.8" y1="2198.64" x2="826.4" y2="2198.64" stroke="#222" stroke-width="1.7" stroke-linecap="butt"/>
<text x="805.2" y="2206.94" font-size="23" text-anchor="end">300</text>
<line x1="819.8" y1="2132.12" x2="826.4" y2="2132.12" stroke="#222" stroke-width="1.7" stroke-linecap="butt"/>
<text x="805.2" y="2140.42" font-size="23" text-anchor="end">400</text>
<line x1="819.8" y1="2065.6" x2="826.4" y2="2065.6" stroke="#222" stroke-width="1.7" stroke-linecap="butt"/>
<text x="805.2" y="2073.9" font-size="23" text-anchor="end">500</text>
<line x1="826.4" y1="2398.2" x2="826.4" y2="2404.7" stroke="#222" stroke-width="1.7" stroke-linecap="butt"/>
<line x1="910.6" y1="2398.2" x2="910.6" y2="2404.7" stroke="#222" stroke-width="1.7" stroke-linecap="butt"/>
<line x1="994.9" y1="2398.2" x2="994.9" y2="2404.7" stroke="#222" stroke-width="1.7" stroke-linecap="butt"/>
<line x1="1079.5" y1="2398.2" x2="1079.5" y2="2404.7" stroke="#222" stroke-width="1.7" stroke-linecap="butt"/>
<line x1="1163.8" y1="2398.2" x2="1163.8" y2="2404.7" stroke="#222" stroke-width="1.7" stroke-linecap="butt"/>
<line x1="1247.3" y1="2398.2" x2="1247.3" y2="2404.7" stroke="#222" stroke-width="1.7" stroke-linecap="butt"/>
<text x="755" y="2240.7" font-size="24" text-anchor="middle" transform="rotate(-90 755 2240.7)" textLength="214.3" lengthAdjust="spacingAndGlyphs">Coagulation Time (s)</text>
<text x="868.5" y="2434.2" font-size="23" text-anchor="middle">200</text>
<text x="952.4" y="2434.2" font-size="23" text-anchor="middle">100</text>
<text x="1037.05" y="2434.2" font-size="23" text-anchor="middle">200</text>
<text x="1121.1" y="2434.2" font-size="23" text-anchor="middle">400</text>
<text x="1205.75" y="2434.2" font-size="23" text-anchor="middle">200</text>
<text x="812.9" y="2434.2" font-size="22" text-anchor="end">mg/kg·d</text>
<line x1="834.4" y1="2446.1" x2="903.9" y2="2446.1" stroke="#222" stroke-width="2" stroke-linecap="butt"/>
<text x="871.15" y="2469.8" font-size="22.5" text-anchor="middle">Saline</text>
<line x1="921.5" y1="2446.1" x2="1152.2" y2="2446.1" stroke="#222" stroke-width="2" stroke-linecap="butt"/>
<text x="1038.85" y="2469.8" font-size="22.5" text-anchor="middle">Agaropectin</text>
<line x1="1170.3" y1="2446.1" x2="1239.3" y2="2446.1" stroke="#222" stroke-width="2" stroke-linecap="butt"/>
<text x="1206.8" y="2469.8" font-size="22.5" text-anchor="middle">PSS</text>
<text x="1037" y="2113.2" font-size="30" text-anchor="middle" letter-spacing="2">*</text>
<text x="1122.9" y="2122.2" font-size="30" text-anchor="middle" letter-spacing="2">**</text>
<rect x="1420.7" y="2105.3" width="25.1" height="286.9" fill="#808080" stroke="#222" stroke-width="1.8"/>
<line x1="1433.25" y1="2088.7" x2="1433.25" y2="2119.5" stroke="#222" stroke-width="1.8" stroke-linecap="butt"/>
<line x1="1430.75" y1="2088.7" x2="1435.75" y2="2088.7" stroke="#222" stroke-width="1.8" stroke-linecap="butt"/>
<line x1="1430.75" y1="2119.5" x2="1435.75" y2="2119.5" stroke="#222" stroke-width="1.8" stroke-linecap="butt"/>
<rect x="1506.3" y="2168.4" width="25.3" height="223.8" fill="#808080" stroke="#222" stroke-width="1.8"/>
<line x1="1518.95" y1="2145" x2="1518.95" y2="2190" stroke="#222" stroke-width="1.8" stroke-linecap="butt"/>
<line x1="1516.45" y1="2145" x2="1521.45" y2="2145" stroke="#222" stroke-width="1.8" stroke-linecap="butt"/>
<line x1="1516.45" y1="2190" x2="1521.45" y2="2190" stroke="#222" stroke-width="1.8" stroke-linecap="butt"/>
<rect x="1592.1" y="2175.1" width="25.7" height="217.1" fill="#808080" stroke="#222" stroke-width="1.8"/>
<line x1="1604.95" y1="2154.7" x2="1604.95" y2="2193.6" stroke="#222" stroke-width="1.8" stroke-linecap="butt"/>
<line x1="1602.45" y1="2154.7" x2="1607.45" y2="2154.7" stroke="#222" stroke-width="1.8" stroke-linecap="butt"/>
<line x1="1602.45" y1="2193.6" x2="1607.45" y2="2193.6" stroke="#222" stroke-width="1.8" stroke-linecap="butt"/>
<rect x="1678.3" y="2189.2" width="25.7" height="203" fill="#808080" stroke="#222" stroke-width="1.8"/>
<line x1="1691.15" y1="2183.6" x2="1691.15" y2="2192.6" stroke="#222" stroke-width="1.8" stroke-linecap="butt"/>
<line x1="1688.65" y1="2183.6" x2="1693.65" y2="2183.6" stroke="#222" stroke-width="1.8" stroke-linecap="butt"/>
<line x1="1688.65" y1="2192.6" x2="1693.65" y2="2192.6" stroke="#222" stroke-width="1.8" stroke-linecap="butt"/>
<rect x="1764.5" y="2187.2" width="26" height="205" fill="#808080" stroke="#222" stroke-width="1.8"/>
<line x1="1777.5" y1="2173.5" x2="1777.5" y2="2200" stroke="#222" stroke-width="1.8" stroke-linecap="butt"/>
<line x1="1775" y1="2173.5" x2="1780" y2="2173.5" stroke="#222" stroke-width="1.8" stroke-linecap="butt"/>
<line x1="1775" y1="2200" x2="1780" y2="2200" stroke="#222" stroke-width="1.8" stroke-linecap="butt"/>
<line x1="1389.7" y1="2053.5" x2="1389.7" y2="2393.1" stroke="#222" stroke-width="1.7" stroke-linecap="butt"/>
<line x1="1383.1" y1="2392.2" x2="1820.6" y2="2392.2" stroke="#222" stroke-width="1.7" stroke-linecap="butt"/>
<line x1="1383.1" y1="2392.2" x2="1389.7" y2="2392.2" stroke="#222" stroke-width="1.7" stroke-linecap="butt"/>
<text x="1368.9" y="2400.5" font-size="23" text-anchor="end">0</text>
<line x1="1383.1" y1="2307.52" x2="1389.7" y2="2307.52" stroke="#222" stroke-width="1.7" stroke-linecap="butt"/>
<text x="1368.9" y="2315.82" font-size="23" text-anchor="end">25</text>
<line x1="1383.1" y1="2222.85" x2="1389.7" y2="2222.85" stroke="#222" stroke-width="1.7" stroke-linecap="butt"/>
<text x="1368.9" y="2231.15" font-size="23" text-anchor="end">50</text>
<line x1="1383.1" y1="2138.18" x2="1389.7" y2="2138.18" stroke="#222" stroke-width="1.7" stroke-linecap="butt"/>
<text x="1368.9" y="2146.48" font-size="23" text-anchor="end">75</text>
<line x1="1383.1" y1="2053.5" x2="1389.7" y2="2053.5" stroke="#222" stroke-width="1.7" stroke-linecap="butt"/>
<text x="1368.9" y="2061.8" font-size="23" text-anchor="end">100</text>
<line x1="1389.7" y1="2392.2" x2="1389.7" y2="2398.7" stroke="#222" stroke-width="1.7" stroke-linecap="butt"/>
<line x1="1476.2" y1="2392.2" x2="1476.2" y2="2398.7" stroke="#222" stroke-width="1.7" stroke-linecap="butt"/>
<line x1="1561.7" y1="2392.2" x2="1561.7" y2="2398.7" stroke="#222" stroke-width="1.7" stroke-linecap="butt"/>
<line x1="1647.9" y1="2392.2" x2="1647.9" y2="2398.7" stroke="#222" stroke-width="1.7" stroke-linecap="butt"/>
<line x1="1734.4" y1="2392.2" x2="1734.4" y2="2398.7" stroke="#222" stroke-width="1.7" stroke-linecap="butt"/>
<line x1="1819.9" y1="2392.2" x2="1819.9" y2="2398.7" stroke="#222" stroke-width="1.7" stroke-linecap="butt"/>
<text x="1318" y="2227.9" font-size="24" text-anchor="middle" transform="rotate(-90 1318 2227.9)" textLength="265" lengthAdjust="spacingAndGlyphs">Liquid Fibrinogen (mg/dl)</text>
<text x="1433.25" y="2430.5" font-size="23" text-anchor="middle">200</text>
<text x="1518.95" y="2430.5" font-size="23" text-anchor="middle">100</text>
<text x="1604.95" y="2430.5" font-size="23" text-anchor="middle">200</text>
<text x="1691.15" y="2430.5" font-size="23" text-anchor="middle">400</text>
<text x="1777.5" y="2430.5" font-size="23" text-anchor="middle">200</text>
<text x="1378.9" y="2430.5" font-size="22" text-anchor="end">mg/kg·d</text>
<line x1="1400.7" y1="2440.8" x2="1471.1" y2="2440.8" stroke="#222" stroke-width="2" stroke-linecap="butt"/>
<text x="1437.9" y="2466" font-size="22.5" text-anchor="middle">Saline</text>
<line x1="1489.6" y1="2440.8" x2="1724.3" y2="2440.8" stroke="#222" stroke-width="2" stroke-linecap="butt"/>
<text x="1608.95" y="2466" font-size="22.5" text-anchor="middle">Agaropectin</text>
<line x1="1742.8" y1="2440.8" x2="1813.9" y2="2440.8" stroke="#222" stroke-width="2" stroke-linecap="butt"/>
<text x="1780.35" y="2466" font-size="22.5" text-anchor="middle">PSS</text>
<text x="1519.4" y="2144.6" font-size="30" text-anchor="middle" letter-spacing="2">**</text>
<text x="1606.7" y="2154" font-size="30" text-anchor="middle" letter-spacing="2">**</text>
<text x="1691.6" y="2182.1" font-size="30" text-anchor="middle" letter-spacing="2">**</text>
<text x="1779.2" y="2170.4" font-size="30" text-anchor="middle" letter-spacing="2">**</text>
</svg>
</body></html>
